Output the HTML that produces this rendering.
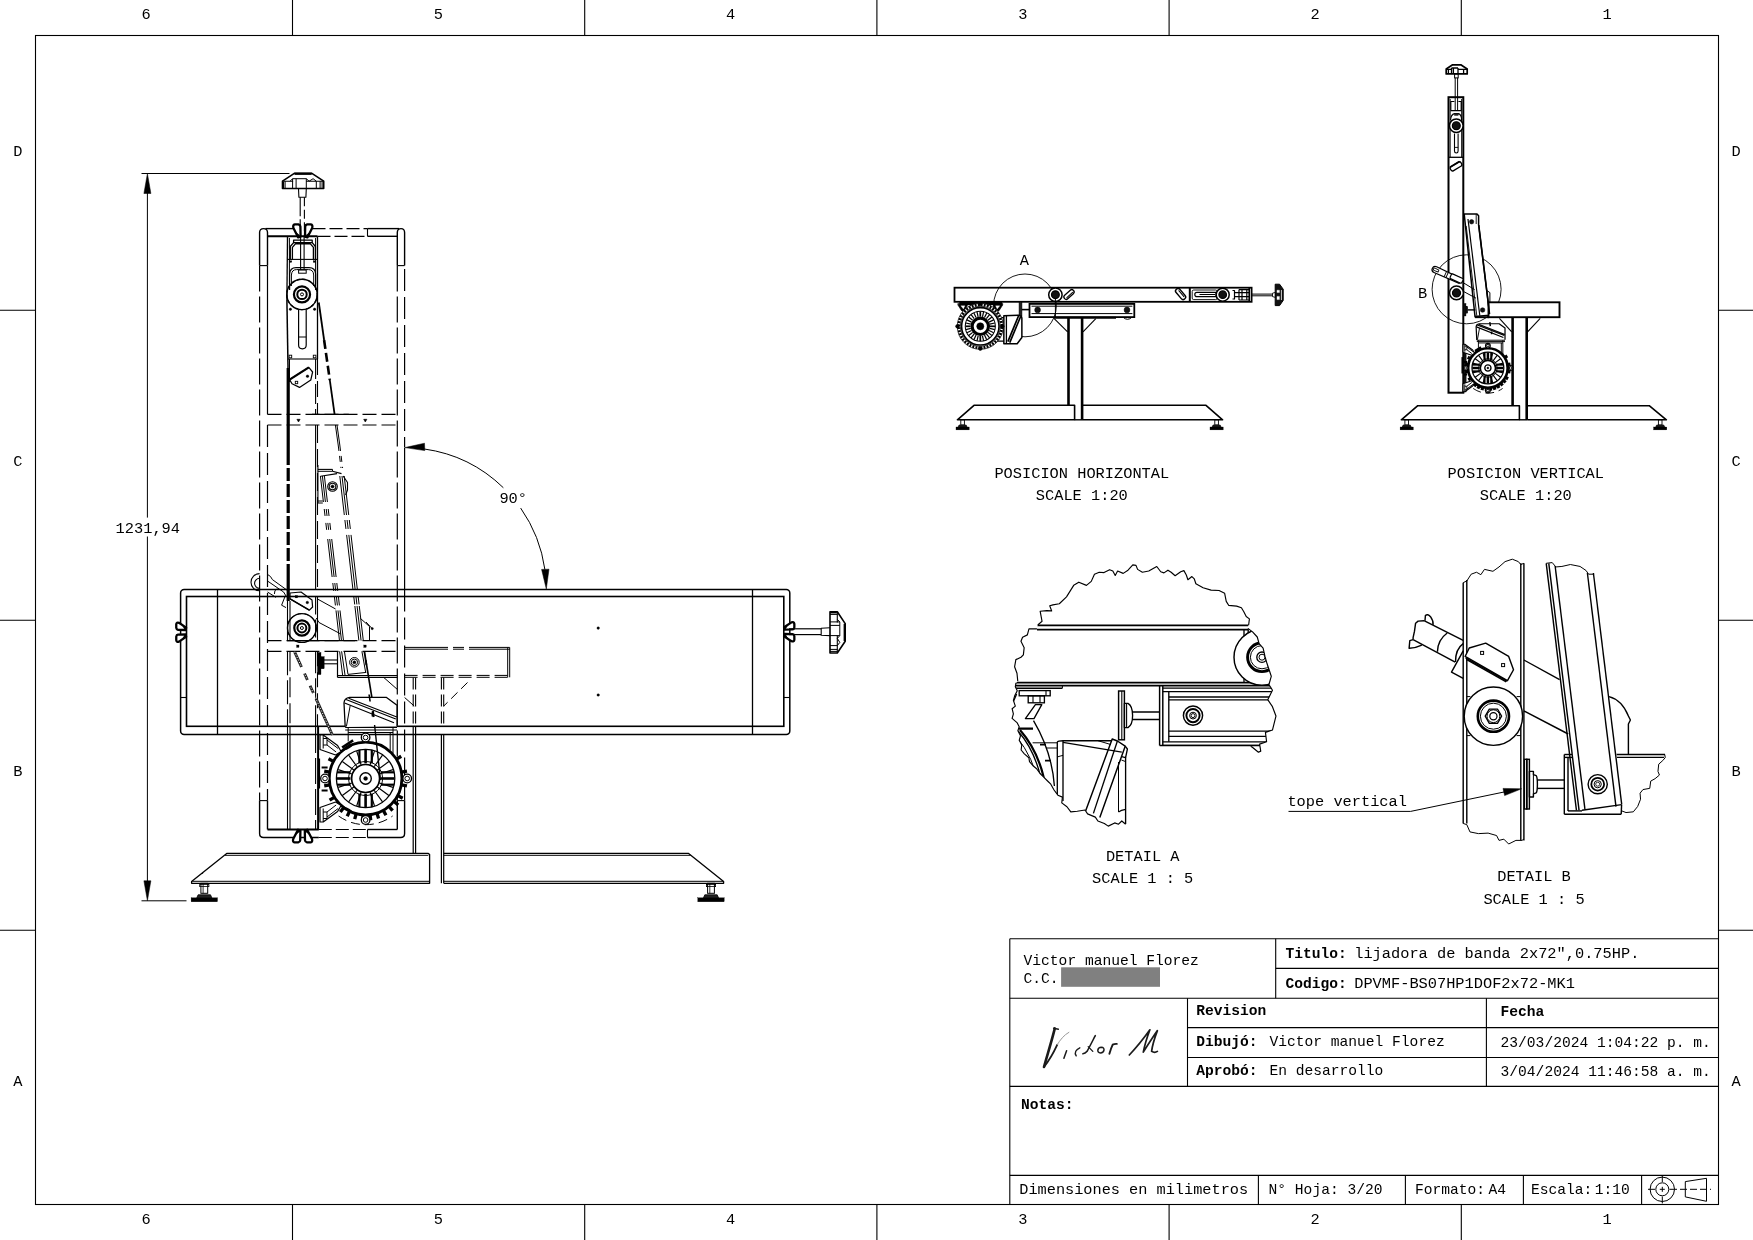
<!DOCTYPE html>
<html><head><meta charset="utf-8"><title>Plano</title>
<style>
html,body{margin:0;padding:0;background:#fff;}
body{width:1753px;height:1240px;overflow:hidden;}
svg{display:block;font-family:"Liberation Mono",monospace;fill:#000;will-change:transform;}
svg text{stroke:none;}
</style></head><body>
<svg width="1753" height="1240" viewBox="0 0 1753 1240">
<rect x="0" y="0" width="1753" height="1240" fill="#fff" stroke="none"/>
<g id="frame">
<rect x="35.50" y="35.50" width="1683.00" height="1169.00" rx="0" fill="none" stroke="#000" stroke-width="1.1"/>
<line x1="292.50" y1="0.00" x2="292.50" y2="35.50" stroke="#000" stroke-width="1.1"/>
<line x1="292.50" y1="1204.50" x2="292.50" y2="1240.00" stroke="#000" stroke-width="1.1"/>
<line x1="584.70" y1="0.00" x2="584.70" y2="35.50" stroke="#000" stroke-width="1.1"/>
<line x1="584.70" y1="1204.50" x2="584.70" y2="1240.00" stroke="#000" stroke-width="1.1"/>
<line x1="876.90" y1="0.00" x2="876.90" y2="35.50" stroke="#000" stroke-width="1.1"/>
<line x1="876.90" y1="1204.50" x2="876.90" y2="1240.00" stroke="#000" stroke-width="1.1"/>
<line x1="1169.10" y1="0.00" x2="1169.10" y2="35.50" stroke="#000" stroke-width="1.1"/>
<line x1="1169.10" y1="1204.50" x2="1169.10" y2="1240.00" stroke="#000" stroke-width="1.1"/>
<line x1="1461.30" y1="0.00" x2="1461.30" y2="35.50" stroke="#000" stroke-width="1.1"/>
<line x1="1461.30" y1="1204.50" x2="1461.30" y2="1240.00" stroke="#000" stroke-width="1.1"/>
<line x1="0.00" y1="310.30" x2="35.50" y2="310.30" stroke="#000" stroke-width="1.1"/>
<line x1="1718.50" y1="310.30" x2="1753.00" y2="310.30" stroke="#000" stroke-width="1.1"/>
<line x1="0.00" y1="620.30" x2="35.50" y2="620.30" stroke="#000" stroke-width="1.1"/>
<line x1="1718.50" y1="620.30" x2="1753.00" y2="620.30" stroke="#000" stroke-width="1.1"/>
<line x1="0.00" y1="930.30" x2="35.50" y2="930.30" stroke="#000" stroke-width="1.1"/>
<line x1="1718.50" y1="930.30" x2="1753.00" y2="930.30" stroke="#000" stroke-width="1.1"/>
<text x="146.20" y="19.00" font-size="15.33" text-anchor="middle" xml:space="preserve">6</text>
<text x="146.20" y="1223.60" font-size="15.33" text-anchor="middle" xml:space="preserve">6</text>
<text x="438.40" y="19.00" font-size="15.33" text-anchor="middle" xml:space="preserve">5</text>
<text x="438.40" y="1223.60" font-size="15.33" text-anchor="middle" xml:space="preserve">5</text>
<text x="730.60" y="19.00" font-size="15.33" text-anchor="middle" xml:space="preserve">4</text>
<text x="730.60" y="1223.60" font-size="15.33" text-anchor="middle" xml:space="preserve">4</text>
<text x="1022.80" y="19.00" font-size="15.33" text-anchor="middle" xml:space="preserve">3</text>
<text x="1022.80" y="1223.60" font-size="15.33" text-anchor="middle" xml:space="preserve">3</text>
<text x="1315.00" y="19.00" font-size="15.33" text-anchor="middle" xml:space="preserve">2</text>
<text x="1315.00" y="1223.60" font-size="15.33" text-anchor="middle" xml:space="preserve">2</text>
<text x="1607.20" y="19.00" font-size="15.33" text-anchor="middle" xml:space="preserve">1</text>
<text x="1607.20" y="1223.60" font-size="15.33" text-anchor="middle" xml:space="preserve">1</text>
<text x="17.80" y="156.40" font-size="15.33" text-anchor="middle" xml:space="preserve">D</text>
<text x="1736.20" y="156.40" font-size="15.33" text-anchor="middle" xml:space="preserve">D</text>
<text x="17.80" y="466.40" font-size="15.33" text-anchor="middle" xml:space="preserve">C</text>
<text x="1736.20" y="466.40" font-size="15.33" text-anchor="middle" xml:space="preserve">C</text>
<text x="17.80" y="776.40" font-size="15.33" text-anchor="middle" xml:space="preserve">B</text>
<text x="1736.20" y="776.40" font-size="15.33" text-anchor="middle" xml:space="preserve">B</text>
<text x="17.80" y="1086.40" font-size="15.33" text-anchor="middle" xml:space="preserve">A</text>
<text x="1736.20" y="1086.40" font-size="15.33" text-anchor="middle" xml:space="preserve">A</text>
</g>
<g id="title">
<line x1="1009.80" y1="938.70" x2="1718.50" y2="938.70" stroke="#000" stroke-width="1.1"/>
<line x1="1009.80" y1="938.70" x2="1009.80" y2="1204.50" stroke="#000" stroke-width="1.1"/>
<line x1="1009.80" y1="998.30" x2="1718.50" y2="998.30" stroke="#000" stroke-width="1.1"/>
<line x1="1009.80" y1="1086.40" x2="1718.50" y2="1086.40" stroke="#000" stroke-width="1.1"/>
<line x1="1009.80" y1="1175.40" x2="1718.50" y2="1175.40" stroke="#000" stroke-width="1.1"/>
<line x1="1275.70" y1="938.70" x2="1275.70" y2="998.30" stroke="#000" stroke-width="1.1"/>
<line x1="1275.70" y1="968.40" x2="1718.50" y2="968.40" stroke="#000" stroke-width="1.1"/>
<line x1="1187.50" y1="998.30" x2="1187.50" y2="1086.40" stroke="#000" stroke-width="1.1"/>
<line x1="1486.40" y1="998.30" x2="1486.40" y2="1086.40" stroke="#000" stroke-width="1.1"/>
<line x1="1187.50" y1="1027.60" x2="1718.50" y2="1027.60" stroke="#000" stroke-width="1.1"/>
<line x1="1187.50" y1="1057.50" x2="1718.50" y2="1057.50" stroke="#000" stroke-width="1.1"/>
<line x1="1258.40" y1="1175.40" x2="1258.40" y2="1204.50" stroke="#000" stroke-width="1.1"/>
<line x1="1405.40" y1="1175.40" x2="1405.40" y2="1204.50" stroke="#000" stroke-width="1.1"/>
<line x1="1523.40" y1="1175.40" x2="1523.40" y2="1204.50" stroke="#000" stroke-width="1.1"/>
<line x1="1641.60" y1="1175.40" x2="1641.60" y2="1204.50" stroke="#000" stroke-width="1.1"/>
<text x="1023.60" y="964.80" font-size="14.6" text-anchor="start" xml:space="preserve">Victor manuel Florez</text>
<text x="1023.60" y="982.80" font-size="14.6" text-anchor="start" xml:space="preserve">C.C.</text>
<rect x="1061.10" y="967.30" width="98.90" height="19.50" rx="0" fill="#808080" stroke="none" stroke-width="0"/>
<text x="1285.50" y="958.20" font-size="14.6" text-anchor="start" font-weight="bold" xml:space="preserve">Titulo:</text>
<text x="1354.20" y="957.80" font-size="15.33" text-anchor="start" xml:space="preserve">lijadora de banda 2x72",0.75HP.</text>
<text x="1285.50" y="988.10" font-size="14.6" text-anchor="start" font-weight="bold" xml:space="preserve">Codigo:</text>
<text x="1354.20" y="987.50" font-size="15.33" text-anchor="start" xml:space="preserve">DPVMF-BS07HP1DOF2x72-MK1</text>
<text x="1196.20" y="1015.00" font-size="14.6" text-anchor="start" font-weight="bold" xml:space="preserve">Revision</text>
<text x="1196.20" y="1045.60" font-size="14.6" text-anchor="start" font-weight="bold" xml:space="preserve">Dibujó:</text>
<text x="1269.50" y="1045.60" font-size="14.6" text-anchor="start" xml:space="preserve">Victor manuel Florez</text>
<text x="1196.20" y="1074.90" font-size="14.6" text-anchor="start" font-weight="bold" xml:space="preserve">Aprobó:</text>
<text x="1269.50" y="1074.90" font-size="14.6" text-anchor="start" xml:space="preserve">En desarrollo</text>
<text x="1500.60" y="1016.30" font-size="14.6" text-anchor="start" font-weight="bold" xml:space="preserve">Fecha</text>
<text x="1500.60" y="1047.00" font-size="14.6" text-anchor="start" xml:space="preserve">23/03/2024 1:04:22 p. m.</text>
<text x="1500.60" y="1075.70" font-size="14.6" text-anchor="start" xml:space="preserve">3/04/2024 11:46:58 a. m.</text>
<text x="1021.00" y="1108.90" font-size="14.6" text-anchor="start" font-weight="bold" xml:space="preserve">Notas:</text>
<text x="1019.30" y="1193.90" font-size="15.25" text-anchor="start" xml:space="preserve">Dimensiones en milimetros</text>
<text x="1268.60" y="1193.90" font-size="14.6" text-anchor="start" xml:space="preserve">N° Hoja: 3/20</text>
<text x="1415.00" y="1193.90" font-size="14.6" text-anchor="start" xml:space="preserve">Formato:</text>
<text x="1488.40" y="1193.90" font-size="14.6" text-anchor="start" xml:space="preserve">A4</text>
<text x="1531.00" y="1193.90" font-size="14.6" text-anchor="start" xml:space="preserve">Escala:</text>
<text x="1594.80" y="1193.90" font-size="14.6" text-anchor="start" xml:space="preserve">1:10</text>
<circle cx="1662.30" cy="1189.30" r="12.20" fill="none" stroke="#000" stroke-width="1.0"/>
<circle cx="1662.30" cy="1189.30" r="6.50" fill="none" stroke="#000" stroke-width="1.0"/>
<line x1="1648.00" y1="1189.30" x2="1655.00" y2="1189.30" stroke="#000" stroke-width="1.0"/>
<line x1="1669.50" y1="1189.30" x2="1677.00" y2="1189.30" stroke="#000" stroke-width="1.0"/>
<line x1="1662.30" y1="1176.00" x2="1662.30" y2="1182.00" stroke="#000" stroke-width="1.0"/>
<line x1="1662.30" y1="1196.50" x2="1662.30" y2="1203.40" stroke="#000" stroke-width="1.0"/>
<line x1="1659.80" y1="1189.30" x2="1664.80" y2="1189.30" stroke="#000" stroke-width="1.0"/>
<line x1="1662.30" y1="1186.80" x2="1662.30" y2="1191.80" stroke="#000" stroke-width="1.0"/>
<polygon points="1685.30,1181.60 1706.50,1178.30 1706.50,1201.30 1685.30,1196.90" fill="none" stroke="#000" stroke-width="1.0" stroke-linejoin="round"/>
<line x1="1680.00" y1="1189.30" x2="1711.00" y2="1189.30" stroke="#000" stroke-width="1.0" stroke-dasharray="7 3"/>
<path d="M1054.8,1028.4 C1052,1040 1047,1056 1044.0,1067" fill="none" stroke="#1a1a1a" stroke-width="2.6" stroke-linejoin="round" stroke-linecap="round"/>
<path d="M1053.6,1028.2 L1058.4,1029.2" fill="none" stroke="#1a1a1a" stroke-width="1.4" stroke-linejoin="round" stroke-linecap="round"/>
<path d="M1044.2,1066.6 C1048,1062 1053,1054 1057.3,1044.7" fill="none" stroke="#1a1a1a" stroke-width="1.8" stroke-linejoin="round" stroke-linecap="round"/>
<path d="M1057.3,1044.7 C1060,1040 1064,1035 1068.9,1032.3" fill="none" stroke="#999" stroke-width="1.0" stroke-linejoin="round" stroke-linecap="round"/>
<path d="M1066.6,1050.8 L1063.9,1058.2" fill="none" stroke="#1a1a1a" stroke-width="1.5" stroke-linejoin="round" stroke-linecap="round"/>
<path d="M1079.8,1047.8 C1076,1049.5 1074,1052.5 1076.2,1055.8" fill="none" stroke="#1a1a1a" stroke-width="1.4" stroke-linejoin="round" stroke-linecap="round"/>
<path d="M1095.3,1035.6 C1092,1042 1089.5,1047 1087.1,1051.3 C1085.6,1053 1084.5,1053.6 1082.9,1053.8" fill="none" stroke="#1a1a1a" stroke-width="1.6" stroke-linejoin="round" stroke-linecap="round"/>
<path d="M1088.2,1046.6 L1092.8,1051.4" fill="none" stroke="#1a1a1a" stroke-width="1.3" stroke-linejoin="round" stroke-linecap="round"/>
<path d="M1101.4,1047.2 C1097,1047.4 1096.6,1052.8 1100.4,1052.9 C1104.6,1052.8 1105.4,1047.4 1101.4,1047.2" fill="none" stroke="#1a1a1a" stroke-width="1.5" stroke-linejoin="round"/>
<path d="M1109.4,1053.8 C1110.5,1050 1111.6,1047 1112.7,1044.7 C1114,1044 1115.5,1043.8 1116.8,1043.9" fill="none" stroke="#1a1a1a" stroke-width="1.9" stroke-linejoin="round" stroke-linecap="round"/>
<path d="M1129.3,1055 C1137,1047 1144,1038 1149.9,1029.8 C1147,1037.5 1144.6,1045.5 1143.3,1052.1 C1147.5,1045.5 1152.6,1037.6 1157.4,1030.6 C1154.8,1037.5 1152.4,1045 1151.6,1051.3 C1153.6,1052.6 1155.6,1052.6 1157.4,1051.4" fill="none" stroke="#1a1a1a" stroke-width="1.7" stroke-linejoin="round" stroke-linecap="round"/>
</g>
<g id="main">
<line x1="141.50" y1="173.50" x2="289.50" y2="173.50" stroke="#000" stroke-width="1.0"/>
<line x1="141.50" y1="900.80" x2="186.50" y2="900.80" stroke="#000" stroke-width="1.0"/>
<line x1="147.40" y1="190.00" x2="147.40" y2="517.60" stroke="#000" stroke-width="1.0"/>
<line x1="147.40" y1="536.50" x2="147.40" y2="884.00" stroke="#000" stroke-width="1.0"/>
<polygon points="147.40,173.50 143.90,193.50 150.90,193.50" fill="#000" stroke="#000" stroke-width="0.5" stroke-linejoin="round"/>
<polygon points="147.40,900.80 143.90,880.80 150.90,880.80" fill="#000" stroke="#000" stroke-width="0.5" stroke-linejoin="round"/>
<text x="147.80" y="532.80" font-size="15.33" text-anchor="middle" xml:space="preserve">1231,94</text>
<path d="M544.92,569.67 A141.8,141.8 0 0 0 520.66,508.07" fill="none" stroke="#000" stroke-width="1.0" stroke-linejoin="round"/>
<path d="M503.36,487.74 A141.8,141.8 0 0 0 424.23,448.98" fill="none" stroke="#000" stroke-width="1.0" stroke-linejoin="round"/>
<polygon points="404.80,447.60 424.50,443.20 424.80,450.60" fill="#000" stroke="#000" stroke-width="0.5" stroke-linejoin="round"/>
<polygon points="546.30,589.00 541.60,569.40 549.00,569.20" fill="#000" stroke="#000" stroke-width="0.5" stroke-linejoin="round"/>
<text x="513.20" y="503.20" font-size="15.33" text-anchor="middle" xml:space="preserve">90°</text>
<g transform="translate(303.1,173.3) rotate(0)">
<path d="M-8.8,0 L8.8,0 L20.6,7.9 L20.6,15.2 L-20.6,15.2 L-20.6,7.9 Z" fill="none" stroke="#000" stroke-width="1.6" stroke-linejoin="round"/>
<path d="M-8.6,0.5 L8.6,0.5" fill="none" stroke="#000" stroke-width="2.2" stroke-linejoin="round"/>
<path d="M-20,8.4 L-20,15" fill="none" stroke="#000" stroke-width="2.0" stroke-linejoin="round"/>
<path d="M-20.6,7.9 L-10,7.9 M3,7.9 L20.6,7.9" fill="none" stroke="#000" stroke-width="1.1" stroke-linejoin="round"/>
<path d="M-10.5,5.4 L3.2,5.4 M-10.5,5.4 L-10.5,15.2 M-7,5.4 L-7,15.2 M3.2,5.4 L3.2,15.2 M-18,7.9 L-18,15.2 M13.2,7.9 L13.2,15.2 M17,7.9 L17,15.2 M19,7.9 L19,15.2 M-10.5,5.4 L-13,7.9 M3.2,5.4 L6,7.9 M10,5.4 L13.2,7.9 M6,7.9 L10,5.4" fill="none" stroke="#000" stroke-width="1.0" stroke-linejoin="round"/>
<path d="M-4.6,15.2 L-4.2,24 L2.8,24 L3.2,15.2" fill="none" stroke="#000" stroke-width="1.1" stroke-linejoin="round"/>
</g>
<line x1="300.20" y1="197.30" x2="300.20" y2="236.00" stroke="#000" stroke-width="1.1" stroke-dasharray="19 3"/>
<line x1="304.40" y1="197.30" x2="304.40" y2="236.00" stroke="#000" stroke-width="1.1" stroke-dasharray="9 3.5"/>
<path d="M259.6,265.6 L259.6,232.6 Q259.6,228.6 263.6,228.6 Q267.5,228.6 267.5,232.6 L267.5,265.6" fill="none" stroke="#000" stroke-width="1.4" stroke-linejoin="round"/>
<line x1="259.60" y1="265.60" x2="267.50" y2="265.60" stroke="#000" stroke-width="1.1"/>
<path d="M397.3,265.6 L397.3,232.6 Q397.3,228.6 401,228.6 Q404.6,228.6 404.6,232.6 L404.6,265.6" fill="none" stroke="#000" stroke-width="1.4" stroke-linejoin="round"/>
<line x1="397.30" y1="265.60" x2="404.60" y2="265.60" stroke="#000" stroke-width="1.1"/>
<line x1="265.50" y1="228.60" x2="293.50" y2="228.60" stroke="#000" stroke-width="1.4"/>
<line x1="312.50" y1="228.60" x2="367.50" y2="228.60" stroke="#000" stroke-width="1.2" stroke-dasharray="13 4"/>
<line x1="367.50" y1="228.60" x2="399.00" y2="228.60" stroke="#000" stroke-width="1.4"/>
<line x1="267.50" y1="236.30" x2="317.50" y2="236.30" stroke="#000" stroke-width="2.0"/>
<line x1="317.50" y1="236.30" x2="367.50" y2="236.30" stroke="#000" stroke-width="1.2" stroke-dasharray="13 4"/>
<line x1="367.50" y1="236.30" x2="397.30" y2="236.30" stroke="#000" stroke-width="1.4"/>
<line x1="367.50" y1="228.60" x2="367.50" y2="236.30" stroke="#000" stroke-width="1.1"/>
<line x1="259.60" y1="265.60" x2="259.60" y2="800.60" stroke="#000" stroke-width="1.2" stroke-dasharray="26 5"/>
<line x1="267.50" y1="265.60" x2="267.50" y2="414.40" stroke="#000" stroke-width="1.2"/>
<line x1="267.50" y1="425.00" x2="267.50" y2="800.60" stroke="#000" stroke-width="1.2" stroke-dasharray="22 6"/>
<line x1="397.30" y1="265.60" x2="397.30" y2="800.60" stroke="#000" stroke-width="1.2" stroke-dasharray="26 5"/>
<line x1="404.60" y1="269.00" x2="404.60" y2="447.00" stroke="#000" stroke-width="1.2" stroke-dasharray="22 6"/>
<line x1="404.60" y1="447.50" x2="404.60" y2="589.40" stroke="#000" stroke-width="1.2"/>
<line x1="404.60" y1="589.40" x2="404.60" y2="800.60" stroke="#000" stroke-width="1.2" stroke-dasharray="22 6"/>
<path d="M259.6,800.6 L259.6,833.5 Q259.6,837.5 263.6,837.5 L318.8,837.5" fill="none" stroke="#000" stroke-width="1.4" stroke-linejoin="round"/>
<line x1="259.60" y1="800.60" x2="267.50" y2="800.60" stroke="#000" stroke-width="1.1"/>
<line x1="267.50" y1="800.60" x2="267.50" y2="829.50" stroke="#000" stroke-width="1.4"/>
<line x1="267.50" y1="829.50" x2="318.80" y2="829.50" stroke="#000" stroke-width="2.0"/>
<line x1="318.80" y1="829.50" x2="367.50" y2="829.50" stroke="#000" stroke-width="1.2" stroke-dasharray="13 4"/>
<line x1="318.80" y1="837.50" x2="367.50" y2="837.50" stroke="#000" stroke-width="1.2" stroke-dasharray="13 4"/>
<line x1="367.50" y1="829.50" x2="397.30" y2="829.50" stroke="#000" stroke-width="1.4"/>
<line x1="367.50" y1="829.50" x2="367.50" y2="837.50" stroke="#000" stroke-width="1.1"/>
<path d="M367.5,837.5 L400.6,837.5 Q404.6,837.5 404.6,833.5 L404.6,800.6" fill="none" stroke="#000" stroke-width="1.4" stroke-linejoin="round"/>
<line x1="397.30" y1="800.60" x2="397.30" y2="829.50" stroke="#000" stroke-width="1.4"/>
<line x1="397.30" y1="800.60" x2="404.60" y2="800.60" stroke="#000" stroke-width="1.1"/>
<line x1="267.50" y1="414.40" x2="397.30" y2="414.40" stroke="#000" stroke-width="1.2" stroke-dasharray="14 5"/>
<line x1="267.50" y1="425.00" x2="397.30" y2="425.00" stroke="#000" stroke-width="1.2" stroke-dasharray="14 5"/>
<line x1="267.50" y1="640.60" x2="397.30" y2="640.60" stroke="#000" stroke-width="1.2" stroke-dasharray="14 5"/>
<line x1="267.50" y1="651.30" x2="397.30" y2="651.30" stroke="#000" stroke-width="1.2" stroke-dasharray="14 5"/>
<line x1="311.90" y1="414.40" x2="348.80" y2="414.40" stroke="#000" stroke-width="1.2"/>
<line x1="287.00" y1="640.60" x2="355.00" y2="640.60" stroke="#000" stroke-width="1.2"/>
<polygon points="296.90,419.30 300.10,419.30 298.50,422.00" fill="#000" stroke="#000" stroke-width="0.6" stroke-linejoin="round"/>
<polygon points="363.70,419.30 366.90,419.30 365.30,422.00" fill="#000" stroke="#000" stroke-width="0.6" stroke-linejoin="round"/>
<rect x="296.60" y="645.00" width="2.40" height="2.40" rx="0" fill="#000" stroke="#000" stroke-width="0.3"/>
<rect x="363.80" y="645.00" width="2.40" height="2.40" rx="0" fill="#000" stroke="#000" stroke-width="0.3"/>
<rect x="180.60" y="589.40" width="609.20" height="145.00" rx="3.5" fill="none" stroke="#000" stroke-width="1.5"/>
<rect x="186.50" y="596.50" width="597.30" height="129.80" rx="0" fill="none" stroke="#000" stroke-width="1.6"/>
<line x1="217.50" y1="589.40" x2="217.50" y2="734.40" stroke="#000" stroke-width="1.3"/>
<line x1="752.50" y1="589.40" x2="752.50" y2="734.40" stroke="#000" stroke-width="1.3"/>
<line x1="180.60" y1="697.50" x2="186.50" y2="697.50" stroke="#000" stroke-width="1.1"/>
<line x1="783.80" y1="697.50" x2="789.80" y2="697.50" stroke="#000" stroke-width="1.1"/>
<g transform="translate(186.3,632.2) rotate(-90)">
<path d="M-8.0,-10.04776119402985 L-4.4,-10.04776119402985 Q-2.5,-9.743283582089553 -2.4,-8.373134328358208 L-2.2,-0.7611940298507462 L-4.6,-0.15223880597014927 L-9.4,-7.307462686567163 Q-10.2,-9.743283582089553 -8.0,-10.04776119402985 Z" fill="#fff" stroke="#000" stroke-width="2.3" stroke-linejoin="round"/>
<path d="M-3.0,-1.5223880597014925 L-4.6,-0.9134328358208954 L-6.2,-3.3492537313432837 Z" fill="#000" stroke="#000" stroke-width="0.8" stroke-linejoin="round"/>
<path d="M8.0,-10.04776119402985 L4.4,-10.04776119402985 Q2.5,-9.743283582089553 2.4,-8.373134328358208 L2.2,-0.7611940298507462 L4.6,-0.15223880597014927 L9.4,-7.307462686567163 Q10.2,-9.743283582089553 8.0,-10.04776119402985 Z" fill="#fff" stroke="#000" stroke-width="2.3" stroke-linejoin="round"/>
<path d="M3.0,-1.5223880597014925 L4.6,-0.9134328358208954 L6.2,-3.3492537313432837 Z" fill="#000" stroke="#000" stroke-width="0.8" stroke-linejoin="round"/>
</g>
<g transform="translate(783.9,631.8) rotate(90)">
<path d="M-8.0,-10.441791044776119 L-4.4,-10.441791044776119 Q-2.5,-10.125373134328358 -2.4,-8.701492537313433 L-2.2,-0.7910447761194029 L-4.6,-0.1582089552238806 L-9.4,-7.594029850746268 Q-10.2,-10.125373134328358 -8.0,-10.441791044776119 Z" fill="#fff" stroke="#000" stroke-width="2.3" stroke-linejoin="round"/>
<path d="M-3.0,-1.5820895522388059 L-4.6,-0.9492537313432835 L-6.2,-3.4805970149253733 Z" fill="#000" stroke="#000" stroke-width="0.8" stroke-linejoin="round"/>
<path d="M8.0,-10.441791044776119 L4.4,-10.441791044776119 Q2.5,-10.125373134328358 2.4,-8.701492537313433 L2.2,-0.7910447761194029 L4.6,-0.1582089552238806 L9.4,-7.594029850746268 Q10.2,-10.125373134328358 8.0,-10.441791044776119 Z" fill="#fff" stroke="#000" stroke-width="2.3" stroke-linejoin="round"/>
<path d="M3.0,-1.5820895522388059 L4.6,-0.9492537313432835 L6.2,-3.4805970149253733 Z" fill="#000" stroke="#000" stroke-width="0.8" stroke-linejoin="round"/>
</g>
<line x1="789.00" y1="628.80" x2="821.00" y2="628.80" stroke="#000" stroke-width="1.2"/>
<line x1="789.00" y1="634.60" x2="821.00" y2="634.60" stroke="#000" stroke-width="1.2"/>
<g transform="translate(845.2,632.4) rotate(90)">
<path d="M-8.8,0 L8.8,0 L20.6,7.9 L20.6,15.2 L-20.6,15.2 L-20.6,7.9 Z" fill="none" stroke="#000" stroke-width="1.6" stroke-linejoin="round"/>
<path d="M-8.6,0.5 L8.6,0.5" fill="none" stroke="#000" stroke-width="2.2" stroke-linejoin="round"/>
<path d="M-20,8.4 L-20,15" fill="none" stroke="#000" stroke-width="2.0" stroke-linejoin="round"/>
<path d="M-20.6,7.9 L-10,7.9 M3,7.9 L20.6,7.9" fill="none" stroke="#000" stroke-width="1.1" stroke-linejoin="round"/>
<path d="M-10.5,5.4 L3.2,5.4 M-10.5,5.4 L-10.5,15.2 M-7,5.4 L-7,15.2 M3.2,5.4 L3.2,15.2 M-18,7.9 L-18,15.2 M13.2,7.9 L13.2,15.2 M17,7.9 L17,15.2 M19,7.9 L19,15.2 M-10.5,5.4 L-13,7.9 M3.2,5.4 L6,7.9 M10,5.4 L13.2,7.9 M6,7.9 L10,5.4" fill="none" stroke="#000" stroke-width="1.0" stroke-linejoin="round"/>
<path d="M-4.6,15.2 L-4.2,24 L2.8,24 L3.2,15.2" fill="none" stroke="#000" stroke-width="1.1" stroke-linejoin="round"/>
</g>
<line x1="287.50" y1="236.30" x2="286.90" y2="300.00" stroke="#000" stroke-width="1.3"/>
<line x1="289.40" y1="238.00" x2="289.40" y2="284.00" stroke="#000" stroke-width="1.0"/>
<line x1="317.50" y1="236.30" x2="317.50" y2="359.00" stroke="#000" stroke-width="1.3"/>
<line x1="315.60" y1="238.00" x2="315.60" y2="284.00" stroke="#000" stroke-width="1.0"/>
<path d="M290.3,259.4 L290.3,246.5 L293.6,242.6 L293.6,240.2 L312.2,240.2 L312.2,242.6 L315.4,246.5 L315.4,259.4" fill="none" stroke="#000" stroke-width="1.3" stroke-linejoin="round"/>
<path d="M292.4,259.4 L292.4,247.4 L295.4,243.8 L310.4,243.8 L313.4,247.4 L313.4,259.4 M293.6,242.6 L312.2,242.6" fill="none" stroke="#000" stroke-width="1.3" stroke-linejoin="round"/>
<line x1="287.50" y1="259.40" x2="317.50" y2="259.40" stroke="#000" stroke-width="1.1"/>
<rect x="289.20" y="260.80" width="2.60" height="1.60" rx="0" fill="#000" stroke="#000" stroke-width="0.3"/>
<rect x="313.20" y="260.80" width="2.60" height="1.60" rx="0" fill="#000" stroke="#000" stroke-width="0.3"/>
<line x1="300.60" y1="236.30" x2="300.60" y2="270.00" stroke="#000" stroke-width="1.1"/>
<line x1="304.10" y1="236.30" x2="304.10" y2="270.00" stroke="#000" stroke-width="1.1"/>
<path d="M289.6,290 L289.6,274 Q290,267.6 296,267.6 L309,267.6 Q315.4,267.6 315.6,274 L315.6,290" fill="none" stroke="#000" stroke-width="1.2" stroke-linejoin="round"/>
<path d="M291.4,286 L291.4,275 Q291.8,269.6 296.5,269.6 L308.6,269.6 Q313.4,269.6 313.7,275 L313.7,286" fill="none" stroke="#000" stroke-width="1.0" stroke-linejoin="round"/>
<rect x="298.60" y="270.00" width="7.60" height="3.20" rx="0" fill="none" stroke="#000" stroke-width="1.0"/>
<circle cx="302.00" cy="294.40" r="15.20" fill="none" stroke="#000" stroke-width="1.4"/>
<circle cx="302.00" cy="294.40" r="8.06" fill="none" stroke="#000" stroke-width="2.2"/>
<circle cx="302.00" cy="294.40" r="4.71" fill="none" stroke="#000" stroke-width="2.0"/>
<circle cx="302.00" cy="294.40" r="1.50" fill="none" stroke="#000" stroke-width="1.0"/>
<circle cx="302.00" cy="294.40" r="15.20" fill="none" stroke="#000" stroke-width="1.2" stroke-dasharray="3 2.5"/>
<path d="M298.6,309.4 L298.6,345 Q298.6,348.8 302.4,348.8 Q306.2,348.8 306.2,345 L306.2,309.4" fill="none" stroke="#000" stroke-width="1.2" stroke-linejoin="round"/>
<line x1="298.60" y1="337.00" x2="306.20" y2="337.00" stroke="#000" stroke-width="1.0"/>
<circle cx="290.40" cy="309.20" r="1.20" fill="#000" stroke="#000" stroke-width="0.4"/>
<rect x="289.10" y="355.20" width="2.60" height="2.60" rx="0" fill="none" stroke="#000" stroke-width="0.9"/>
<circle cx="314.60" cy="309.20" r="1.20" fill="#000" stroke="#000" stroke-width="0.4"/>
<rect x="313.30" y="355.20" width="2.60" height="2.60" rx="0" fill="none" stroke="#000" stroke-width="0.9"/>
<line x1="287.80" y1="359.00" x2="317.50" y2="359.00" stroke="#000" stroke-width="1.1"/>
<line x1="289.50" y1="359.00" x2="289.50" y2="382.00" stroke="#000" stroke-width="1.0"/>
<polygon points="289.60,379.60 308.80,367.40 312.60,372.00 310.80,380.00 299.50,387.40 292.00,383.80" fill="none" stroke="#000" stroke-width="1.2" stroke-linejoin="round"/>
<line x1="289.60" y1="379.60" x2="308.80" y2="367.40" stroke="#000" stroke-width="2.2"/>
<rect x="295.30" y="381.30" width="2.40" height="2.40" rx="0" fill="none" stroke="#000" stroke-width="0.9"/>
<circle cx="307.50" cy="376.20" r="1.30" fill="#000" stroke="#000" stroke-width="0.4"/>
<line x1="286.90" y1="300.00" x2="288.10" y2="372.00" stroke="#000" stroke-width="1.5"/>
<line x1="288.20" y1="368.00" x2="288.20" y2="452.00" stroke="#000" stroke-width="3.2"/>
<line x1="288.20" y1="452.00" x2="288.20" y2="566.00" stroke="#000" stroke-width="3.2" stroke-dasharray="13 3"/>
<line x1="288.20" y1="566.00" x2="288.20" y2="601.00" stroke="#000" stroke-width="3.2"/>
<line x1="287.50" y1="601.00" x2="287.50" y2="640.00" stroke="#000" stroke-width="1.1"/>
<line x1="290.00" y1="601.00" x2="290.00" y2="640.00" stroke="#000" stroke-width="1.1"/>
<line x1="287.50" y1="651.30" x2="287.50" y2="726.00" stroke="#000" stroke-width="1.1" stroke-dasharray="24 5"/>
<line x1="290.00" y1="651.30" x2="290.00" y2="726.00" stroke="#000" stroke-width="1.1" stroke-dasharray="20 6"/>
<line x1="287.50" y1="726.00" x2="287.50" y2="829.50" stroke="#000" stroke-width="1.1"/>
<line x1="290.00" y1="726.00" x2="290.00" y2="829.50" stroke="#000" stroke-width="1.1"/>
<line x1="315.60" y1="359.00" x2="315.60" y2="414.40" stroke="#000" stroke-width="1.1" stroke-dasharray="20 5"/>
<line x1="317.50" y1="359.00" x2="317.50" y2="414.40" stroke="#000" stroke-width="1.1" stroke-dasharray="16 6"/>
<line x1="315.60" y1="425.00" x2="315.60" y2="589.40" stroke="#000" stroke-width="1.1"/>
<line x1="317.50" y1="425.00" x2="317.50" y2="589.40" stroke="#000" stroke-width="1.1" stroke-dasharray="18 6"/>
<line x1="315.60" y1="596.50" x2="315.60" y2="640.60" stroke="#000" stroke-width="1.1" stroke-dasharray="18 5"/>
<line x1="317.50" y1="596.50" x2="317.50" y2="640.60" stroke="#000" stroke-width="1.1"/>
<line x1="315.60" y1="651.30" x2="315.60" y2="727.00" stroke="#000" stroke-width="1.1" stroke-dasharray="22 5"/>
<line x1="317.50" y1="651.30" x2="317.50" y2="727.00" stroke="#000" stroke-width="1.1" stroke-dasharray="15 6"/>
<line x1="315.60" y1="727.00" x2="315.60" y2="829.50" stroke="#000" stroke-width="1.1" stroke-dasharray="26 5"/>
<line x1="318.10" y1="727.00" x2="318.10" y2="829.50" stroke="#000" stroke-width="2.0"/>
<line x1="318.80" y1="302.50" x2="324.10" y2="340.00" stroke="#000" stroke-width="1.8"/>
<line x1="324.10" y1="340.00" x2="329.80" y2="380.00" stroke="#000" stroke-width="2.6" stroke-dasharray="9 4"/>
<line x1="329.80" y1="380.00" x2="334.60" y2="414.40" stroke="#000" stroke-width="1.8"/>
<line x1="335.40" y1="425.00" x2="338.20" y2="445.00" stroke="#000" stroke-width="1.0"/>
<line x1="337.00" y1="425.00" x2="339.80" y2="445.00" stroke="#000" stroke-width="1.0"/>
<line x1="338.20" y1="445.00" x2="341.00" y2="468.00" stroke="#000" stroke-width="1.0" stroke-dasharray="6 5"/>
<line x1="339.80" y1="445.00" x2="342.60" y2="468.00" stroke="#000" stroke-width="1.0" stroke-dasharray="6 5"/>
<line x1="320.40" y1="476.00" x2="323.42" y2="502.00" stroke="#000" stroke-width="1.0"/>
<line x1="322.40" y1="476.00" x2="325.42" y2="502.00" stroke="#000" stroke-width="1.0"/>
<line x1="324.40" y1="476.00" x2="327.42" y2="502.00" stroke="#000" stroke-width="1.0"/>
<line x1="324.23" y1="509.00" x2="327.01" y2="533.00" stroke="#000" stroke-width="1.0" stroke-dasharray="7 7"/>
<line x1="326.23" y1="509.00" x2="329.01" y2="533.00" stroke="#000" stroke-width="1.0" stroke-dasharray="7 7"/>
<line x1="328.23" y1="509.00" x2="331.01" y2="533.00" stroke="#000" stroke-width="1.0" stroke-dasharray="7 7"/>
<line x1="327.71" y1="539.00" x2="332.12" y2="577.00" stroke="#000" stroke-width="1.0"/>
<line x1="329.71" y1="539.00" x2="334.12" y2="577.00" stroke="#000" stroke-width="1.0"/>
<line x1="331.71" y1="539.00" x2="336.12" y2="577.00" stroke="#000" stroke-width="1.0"/>
<line x1="332.81" y1="583.00" x2="333.74" y2="591.00" stroke="#000" stroke-width="1.0" stroke-dasharray="8 5"/>
<line x1="334.81" y1="583.00" x2="335.74" y2="591.00" stroke="#000" stroke-width="1.0" stroke-dasharray="8 5"/>
<line x1="336.81" y1="583.00" x2="337.74" y2="591.00" stroke="#000" stroke-width="1.0" stroke-dasharray="8 5"/>
<line x1="334.38" y1="596.50" x2="336.18" y2="612.00" stroke="#000" stroke-width="1.0" stroke-dasharray="9 5"/>
<line x1="336.38" y1="596.50" x2="338.18" y2="612.00" stroke="#000" stroke-width="1.0" stroke-dasharray="9 5"/>
<line x1="338.38" y1="596.50" x2="340.18" y2="612.00" stroke="#000" stroke-width="1.0" stroke-dasharray="9 5"/>
<line x1="336.18" y1="612.00" x2="339.49" y2="640.60" stroke="#000" stroke-width="1.0"/>
<line x1="338.18" y1="612.00" x2="341.49" y2="640.60" stroke="#000" stroke-width="1.0"/>
<line x1="340.18" y1="612.00" x2="343.49" y2="640.60" stroke="#000" stroke-width="1.0"/>
<line x1="339.80" y1="476.00" x2="344.32" y2="515.00" stroke="#000" stroke-width="1.0"/>
<line x1="342.00" y1="476.00" x2="346.52" y2="515.00" stroke="#000" stroke-width="1.0"/>
<line x1="344.20" y1="476.00" x2="348.72" y2="515.00" stroke="#000" stroke-width="1.0"/>
<line x1="344.90" y1="520.00" x2="347.57" y2="543.00" stroke="#000" stroke-width="1.0" stroke-dasharray="9 6"/>
<line x1="347.10" y1="520.00" x2="349.77" y2="543.00" stroke="#000" stroke-width="1.0" stroke-dasharray="9 6"/>
<line x1="349.30" y1="520.00" x2="351.97" y2="543.00" stroke="#000" stroke-width="1.0" stroke-dasharray="9 6"/>
<line x1="347.57" y1="543.00" x2="352.95" y2="589.40" stroke="#000" stroke-width="1.0"/>
<line x1="349.77" y1="543.00" x2="355.15" y2="589.40" stroke="#000" stroke-width="1.0"/>
<line x1="351.97" y1="543.00" x2="357.35" y2="589.40" stroke="#000" stroke-width="1.0"/>
<line x1="353.78" y1="596.50" x2="354.88" y2="606.00" stroke="#000" stroke-width="1.0" stroke-dasharray="8 5"/>
<line x1="355.98" y1="596.50" x2="357.08" y2="606.00" stroke="#000" stroke-width="1.0" stroke-dasharray="8 5"/>
<line x1="358.18" y1="596.50" x2="359.28" y2="606.00" stroke="#000" stroke-width="1.0" stroke-dasharray="8 5"/>
<line x1="354.88" y1="606.00" x2="358.89" y2="640.60" stroke="#000" stroke-width="1.0"/>
<line x1="357.08" y1="606.00" x2="361.09" y2="640.60" stroke="#000" stroke-width="1.0"/>
<line x1="359.28" y1="606.00" x2="363.29" y2="640.60" stroke="#000" stroke-width="1.0"/>
<line x1="317.90" y1="465.00" x2="317.90" y2="503.00" stroke="#000" stroke-width="1.1"/>
<line x1="317.90" y1="469.40" x2="332.50" y2="469.40" stroke="#000" stroke-width="1.1"/>
<line x1="317.90" y1="471.30" x2="332.50" y2="471.30" stroke="#000" stroke-width="1.0"/>
<line x1="332.50" y1="469.40" x2="332.50" y2="471.30" stroke="#000" stroke-width="1.0"/>
<line x1="320.50" y1="476.20" x2="337.00" y2="473.60" stroke="#000" stroke-width="1.1"/>
<line x1="332.50" y1="471.30" x2="341.50" y2="473.60" stroke="#000" stroke-width="1.1"/>
<line x1="317.90" y1="501.00" x2="322.80" y2="501.00" stroke="#000" stroke-width="1.0"/>
<line x1="317.90" y1="503.00" x2="322.80" y2="503.00" stroke="#000" stroke-width="1.0"/>
<path d="M343.2,476 L347.5,482.5 L347.5,490 L345.6,495" fill="none" stroke="#000" stroke-width="1.1" stroke-linejoin="round"/>
<circle cx="332.50" cy="486.50" r="4.80" fill="none" stroke="#000" stroke-width="1.1"/>
<circle cx="332.50" cy="486.50" r="3.30" fill="none" stroke="#000" stroke-width="1.1"/>
<circle cx="332.50" cy="486.50" r="1.60" fill="#000" stroke="#000" stroke-width="0.5"/>
<line x1="337.50" y1="651.30" x2="337.50" y2="677.40" stroke="#000" stroke-width="1.2"/>
<line x1="339.60" y1="651.30" x2="342.60" y2="675.00" stroke="#000" stroke-width="1.0"/>
<line x1="341.60" y1="651.30" x2="345.00" y2="675.00" stroke="#000" stroke-width="1.0"/>
<line x1="344.40" y1="651.30" x2="348.00" y2="674.40" stroke="#000" stroke-width="1.0"/>
<line x1="361.90" y1="651.30" x2="365.60" y2="672.00" stroke="#000" stroke-width="1.0"/>
<line x1="364.40" y1="651.30" x2="366.40" y2="665.00" stroke="#000" stroke-width="1.8"/>
<line x1="348.00" y1="674.40" x2="366.30" y2="672.40" stroke="#000" stroke-width="1.0"/>
<circle cx="354.40" cy="662.30" r="4.80" fill="none" stroke="#000" stroke-width="1.0"/>
<circle cx="354.40" cy="662.30" r="3.20" fill="none" stroke="#000" stroke-width="1.0"/>
<circle cx="354.40" cy="662.30" r="1.50" fill="#000" stroke="#000" stroke-width="0.5"/>
<line x1="365.80" y1="660.00" x2="372.60" y2="702.00" stroke="#000" stroke-width="1.6"/>
<line x1="294.60" y1="651.80" x2="301.50" y2="667.00" stroke="#222" stroke-width="2.8"/>
<line x1="304.50" y1="673.50" x2="307.40" y2="680.00" stroke="#222" stroke-width="2.8"/>
<line x1="310.00" y1="685.60" x2="313.40" y2="693.00" stroke="#222" stroke-width="2.8"/>
<line x1="316.00" y1="698.60" x2="332.40" y2="735.00" stroke="#222" stroke-width="2.8"/>
<line x1="294.60" y1="651.80" x2="332.40" y2="735.00" stroke="#fff" stroke-width="0.9" stroke-dasharray="1.2 1.6"/>
<rect x="317.40" y="652.40" width="3.60" height="22.20" rx="0" fill="#000" stroke="#000" stroke-width="0.3"/>
<rect x="321.00" y="656.60" width="3.20" height="12.20" rx="0" fill="#000" stroke="#000" stroke-width="0.3"/>
<line x1="324.00" y1="660.00" x2="337.50" y2="660.00" stroke="#000" stroke-width="1.1"/>
<line x1="324.00" y1="663.80" x2="337.50" y2="663.80" stroke="#000" stroke-width="1.1"/>
<line x1="337.50" y1="675.60" x2="397.30" y2="675.60" stroke="#000" stroke-width="1.1"/>
<line x1="337.50" y1="677.50" x2="397.30" y2="677.50" stroke="#000" stroke-width="1.1"/>
<line x1="404.60" y1="647.40" x2="437.00" y2="647.40" stroke="#000" stroke-width="1.0"/>
<line x1="404.60" y1="649.20" x2="437.00" y2="649.20" stroke="#000" stroke-width="1.0"/>
<line x1="437.00" y1="647.40" x2="480.00" y2="647.40" stroke="#000" stroke-width="1.0" stroke-dasharray="11 5"/>
<line x1="437.00" y1="649.20" x2="480.00" y2="649.20" stroke="#000" stroke-width="1.0" stroke-dasharray="11 5"/>
<line x1="480.00" y1="647.40" x2="509.70" y2="647.40" stroke="#000" stroke-width="1.0"/>
<line x1="480.00" y1="649.20" x2="509.70" y2="649.20" stroke="#000" stroke-width="1.0"/>
<line x1="404.60" y1="675.40" x2="509.70" y2="675.40" stroke="#000" stroke-width="1.0" stroke-dasharray="13 5"/>
<line x1="404.60" y1="677.30" x2="509.70" y2="677.30" stroke="#000" stroke-width="1.0" stroke-dasharray="13 5"/>
<line x1="507.70" y1="647.40" x2="507.70" y2="677.30" stroke="#000" stroke-width="1.0"/>
<line x1="509.70" y1="647.40" x2="509.70" y2="677.30" stroke="#000" stroke-width="1.0"/>
<line x1="383.80" y1="677.50" x2="397.30" y2="689.40" stroke="#000" stroke-width="1.0"/>
<line x1="404.60" y1="697.50" x2="414.20" y2="706.00" stroke="#000" stroke-width="1.0"/>
<line x1="467.50" y1="682.50" x2="443.80" y2="706.00" stroke="#000" stroke-width="1.0" stroke-dasharray="9 5"/>
<line x1="413.20" y1="677.50" x2="413.20" y2="726.00" stroke="#000" stroke-width="1.1" stroke-dasharray="12 5"/>
<line x1="415.60" y1="677.50" x2="415.60" y2="726.00" stroke="#000" stroke-width="1.1" stroke-dasharray="12 5"/>
<line x1="413.20" y1="726.00" x2="413.20" y2="853.40" stroke="#000" stroke-width="1.2"/>
<line x1="415.60" y1="726.00" x2="415.60" y2="853.40" stroke="#000" stroke-width="1.2"/>
<line x1="441.40" y1="677.50" x2="441.40" y2="726.00" stroke="#000" stroke-width="1.1" stroke-dasharray="12 5"/>
<line x1="443.70" y1="677.50" x2="443.70" y2="726.00" stroke="#000" stroke-width="1.1" stroke-dasharray="12 5"/>
<line x1="441.40" y1="734.40" x2="441.40" y2="883.30" stroke="#000" stroke-width="1.2"/>
<line x1="443.70" y1="734.40" x2="443.70" y2="883.30" stroke="#000" stroke-width="1.2"/>
<circle cx="598.20" cy="628.10" r="1.30" fill="#000" stroke="#000" stroke-width="0.3"/>
<circle cx="598.20" cy="695.00" r="1.30" fill="#000" stroke="#000" stroke-width="0.3"/>
<circle cx="301.90" cy="628.00" r="14.40" fill="none" stroke="#000" stroke-width="1.4"/>
<circle cx="301.90" cy="628.00" r="7.63" fill="none" stroke="#000" stroke-width="2.2"/>
<circle cx="301.90" cy="628.00" r="4.46" fill="none" stroke="#000" stroke-width="2.0"/>
<circle cx="301.90" cy="628.00" r="1.50" fill="none" stroke="#000" stroke-width="1.0"/>
<circle cx="301.90" cy="628.00" r="14.40" fill="none" stroke="#000" stroke-width="1.0" stroke-dasharray="4 3"/>
<polygon points="290.00,593.00 301.00,592.00 312.00,600.00 312.60,607.00 309.40,610.20 290.00,598.80" fill="none" stroke="#000" stroke-width="1.2" stroke-linejoin="round"/>
<rect x="295.20" y="595.50" width="2.40" height="2.40" rx="0" fill="#000" stroke="#000" stroke-width="0.3"/>
<circle cx="307.30" cy="602.50" r="1.30" fill="#000" stroke="#000" stroke-width="0.4"/>
<polyline points="284.80,597.00 281.60,605.20 286.00,607.60" fill="none" stroke="#000" stroke-width="1.0" stroke-linejoin="round"/>
<line x1="290.00" y1="598.80" x2="309.40" y2="610.20" stroke="#000" stroke-width="1.4"/>
<path d="M259.6,573.6 A8.6,8.6 0 1 0 259.6,590.8" fill="none" stroke="#000" stroke-width="1.1" stroke-linejoin="round"/>
<path d="M259.6,578.3 A5,5 0 0 0 259.6,588.4" fill="none" stroke="#000" stroke-width="1.1" stroke-linejoin="round"/>
<path d="M267.5,574.4 Q271,576 272.4,579.6 L287.4,590.4" fill="none" stroke="#000" stroke-width="1.0" stroke-linejoin="round"/>
<path d="M267.5,581 L283.6,592 L286,596" fill="none" stroke="#000" stroke-width="1.0" stroke-linejoin="round"/>
<path d="M267.5,592 L276,597.4" fill="none" stroke="#000" stroke-width="1.0" stroke-linejoin="round"/>
<path d="M277.4,588.6 Q274,590 274.4,594" fill="none" stroke="#000" stroke-width="1.0" stroke-linejoin="round"/>
<line x1="317.50" y1="599.00" x2="335.60" y2="609.00" stroke="#000" stroke-width="1.0"/>
<line x1="316.30" y1="618.00" x2="319.00" y2="622.50" stroke="#000" stroke-width="1.0"/>
<line x1="319.00" y1="622.50" x2="340.80" y2="634.00" stroke="#000" stroke-width="1.0"/>
<path d="M360.5,618.5 L369.5,626.5 L369.5,640.6" fill="none" stroke="#000" stroke-width="1.0" stroke-linejoin="round"/>
<circle cx="372.20" cy="628.60" r="1.20" fill="#000" stroke="#000" stroke-width="0.3"/>
<line x1="366.00" y1="622.00" x2="371.60" y2="628.00" stroke="#000" stroke-width="1.0"/>
<g transform="translate(365.60,778.50) rotate(0) scale(1.0)">
<line x1="32.23" y1="17.14" x2="37.08" y2="19.72" stroke="#000" stroke-width="3.3"/>
<line x1="28.37" y1="22.97" x2="32.64" y2="26.43" stroke="#000" stroke-width="3.3"/>
<line x1="23.46" y1="27.96" x2="27.00" y2="32.17" stroke="#000" stroke-width="3.3"/>
<line x1="17.70" y1="31.92" x2="20.36" y2="36.73" stroke="#000" stroke-width="3.3"/>
<line x1="11.28" y1="34.71" x2="12.98" y2="39.94" stroke="#000" stroke-width="3.3"/>
<line x1="4.45" y1="36.23" x2="5.12" y2="41.69" stroke="#000" stroke-width="3.3"/>
<line x1="-2.55" y1="36.41" x2="-2.93" y2="41.90" stroke="#000" stroke-width="3.3"/>
<line x1="-9.45" y1="35.26" x2="-10.87" y2="40.57" stroke="#000" stroke-width="3.3"/>
<line x1="-16.00" y1="32.81" x2="-18.41" y2="37.75" stroke="#000" stroke-width="3.3"/>
<line x1="-21.97" y1="29.15" x2="-25.28" y2="33.54" stroke="#000" stroke-width="3.3"/>
<line x1="-27.12" y1="24.42" x2="-31.21" y2="28.10" stroke="#000" stroke-width="3.3"/>
<line x1="-31.29" y1="18.80" x2="-36.00" y2="21.63" stroke="#000" stroke-width="3.3"/>
<line x1="35.95" y1="-6.34" x2="41.36" y2="-7.29" stroke="#000" stroke-width="3.3"/>
<line x1="30.95" y1="-19.34" x2="35.62" y2="-22.26" stroke="#000" stroke-width="3.3"/>
<line x1="-35.95" y1="-6.34" x2="-41.36" y2="-7.29" stroke="#000" stroke-width="3.3"/>
<line x1="-32.23" y1="-17.14" x2="-37.08" y2="-19.72" stroke="#000" stroke-width="3.3"/>
<line x1="35.95" y1="6.34" x2="41.36" y2="7.29" stroke="#000" stroke-width="3.3"/>
<line x1="-35.95" y1="6.34" x2="-41.36" y2="7.29" stroke="#000" stroke-width="3.3"/>
<path d="M-27,37.5 A46.2,46.2 0 0 0 27,37.5" fill="none" stroke="#000" stroke-width="1.0" stroke-linejoin="round" stroke-dasharray="9.0 5.0"/>
<circle cx="0.00" cy="0.00" r="36.30" fill="#fff" stroke="#000" stroke-width="2.8"/>
<circle cx="0.00" cy="0.00" r="29.20" fill="none" stroke="#000" stroke-width="1.3"/>
<circle cx="0.00" cy="0.00" r="17.00" fill="none" stroke="#000" stroke-width="1.0"/>
<circle cx="0.00" cy="0.00" r="14.00" fill="none" stroke="#000" stroke-width="1.7"/>
<circle cx="0.00" cy="0.00" r="5.70" fill="none" stroke="#000" stroke-width="1.4"/>
<circle cx="0.00" cy="0.00" r="2.00" fill="#000" stroke="#000" stroke-width="0.3"/>
<line x1="15.20" y1="0.00" x2="28.60" y2="0.00" stroke="#000" stroke-width="2.6"/>
<line x1="15.20" y1="6.20" x2="28.60" y2="6.20" stroke="#000" stroke-width="2.2"/>
<line x1="15.20" y1="-6.20" x2="28.60" y2="-6.20" stroke="#000" stroke-width="2.2"/>
<line x1="13.79" y1="4.48" x2="27.39" y2="8.90" stroke="#000" stroke-width="1.2"/>
<line x1="11.73" y1="8.52" x2="23.30" y2="16.93" stroke="#000" stroke-width="1.2"/>
<line x1="8.52" y1="11.73" x2="16.93" y2="23.30" stroke="#000" stroke-width="1.2"/>
<line x1="4.48" y1="13.79" x2="8.90" y2="27.39" stroke="#000" stroke-width="1.2"/>
<line x1="0.00" y1="15.20" x2="0.00" y2="28.60" stroke="#000" stroke-width="2.6"/>
<line x1="-6.20" y1="15.20" x2="-6.20" y2="28.60" stroke="#000" stroke-width="2.2"/>
<line x1="6.20" y1="15.20" x2="6.20" y2="28.60" stroke="#000" stroke-width="2.2"/>
<line x1="-4.48" y1="13.79" x2="-8.90" y2="27.39" stroke="#000" stroke-width="1.2"/>
<line x1="-8.52" y1="11.73" x2="-16.93" y2="23.30" stroke="#000" stroke-width="1.2"/>
<line x1="-11.73" y1="8.52" x2="-23.30" y2="16.93" stroke="#000" stroke-width="1.2"/>
<line x1="-13.79" y1="4.48" x2="-27.39" y2="8.90" stroke="#000" stroke-width="1.2"/>
<line x1="-15.20" y1="0.00" x2="-28.60" y2="0.00" stroke="#000" stroke-width="2.6"/>
<line x1="-15.20" y1="-6.20" x2="-28.60" y2="-6.20" stroke="#000" stroke-width="2.2"/>
<line x1="-15.20" y1="6.20" x2="-28.60" y2="6.20" stroke="#000" stroke-width="2.2"/>
<line x1="-13.79" y1="-4.48" x2="-27.39" y2="-8.90" stroke="#000" stroke-width="1.2"/>
<line x1="-11.73" y1="-8.52" x2="-23.30" y2="-16.93" stroke="#000" stroke-width="1.2"/>
<line x1="-8.52" y1="-11.73" x2="-16.93" y2="-23.30" stroke="#000" stroke-width="1.2"/>
<line x1="-4.48" y1="-13.79" x2="-8.90" y2="-27.39" stroke="#000" stroke-width="1.2"/>
<line x1="-0.00" y1="-15.20" x2="-0.00" y2="-28.60" stroke="#000" stroke-width="2.6"/>
<line x1="6.20" y1="-15.20" x2="6.20" y2="-28.60" stroke="#000" stroke-width="2.2"/>
<line x1="-6.20" y1="-15.20" x2="-6.20" y2="-28.60" stroke="#000" stroke-width="2.2"/>
<line x1="4.48" y1="-13.79" x2="8.90" y2="-27.39" stroke="#000" stroke-width="1.2"/>
<line x1="8.52" y1="-11.73" x2="16.93" y2="-23.30" stroke="#000" stroke-width="1.2"/>
<line x1="11.73" y1="-8.52" x2="23.30" y2="-16.93" stroke="#000" stroke-width="1.2"/>
<line x1="13.79" y1="-4.48" x2="27.39" y2="-8.90" stroke="#000" stroke-width="1.2"/>
<circle cx="0.00" cy="-41.00" r="4.30" fill="#fff" stroke="#000" stroke-width="1.3"/>
<circle cx="0.00" cy="-41.00" r="2.30" fill="none" stroke="#000" stroke-width="1.0"/>
<circle cx="0.00" cy="41.50" r="4.30" fill="#fff" stroke="#000" stroke-width="1.3"/>
<circle cx="0.00" cy="41.50" r="2.30" fill="none" stroke="#000" stroke-width="1.0"/>
<circle cx="-40.60" cy="0.00" r="4.30" fill="#fff" stroke="#000" stroke-width="1.3"/>
<circle cx="-40.60" cy="0.00" r="2.30" fill="none" stroke="#000" stroke-width="1.0"/>
<circle cx="41.60" cy="0.00" r="4.30" fill="#fff" stroke="#000" stroke-width="1.3"/>
<circle cx="41.60" cy="0.00" r="2.30" fill="none" stroke="#000" stroke-width="1.0"/>
<path d="M-45.6,-43.5 L-42.4,-43.5 L-28,-33 L-24.5,-27 L-30,-23.5 L-45.6,-29 Z" fill="#fff" stroke="#000" stroke-width="1.2" stroke-linejoin="round"/>
<path d="M-42.4,-43.5 L-42.4,-30 M-42.4,-40 L-38.6,-40 L-38.6,-33.5 L-42.4,-33.5" fill="none" stroke="#000" stroke-width="1.0" stroke-linejoin="round"/>
<path d="M-38.6,-38.5 L-27.5,-30 M-38.6,-33.5 L-29.5,-26.5" fill="none" stroke="#000" stroke-width="1.0" stroke-linejoin="round"/>
<path d="M-45.6,43.5 L-42.4,43.5 L-28,33 L-24.5,27 L-30,23.5 L-45.6,29 Z" fill="#fff" stroke="#000" stroke-width="1.2" stroke-linejoin="round"/>
<path d="M-42.4,43.5 L-42.4,30 M-42.4,40 L-38.6,40 L-38.6,33.5 L-42.4,33.5" fill="none" stroke="#000" stroke-width="1.0" stroke-linejoin="round"/>
<path d="M-38.6,38.5 L-27.5,30 M-38.6,33.5 L-29.5,26.5" fill="none" stroke="#000" stroke-width="1.0" stroke-linejoin="round"/>
<path d="M-46.6,-20 L-46.6,10" fill="none" stroke="#000" stroke-width="2.2" stroke-linejoin="round"/>
<path d="M-44,-11 L-38,-11 M-44,12 L-38,12" fill="none" stroke="#000" stroke-width="2.0" stroke-linejoin="round"/>
<path d="M-22,-28.5 Q-16,-30 -11,-35.5" fill="none" stroke="#000" stroke-width="1.2" stroke-linejoin="round"/>
<path d="M-22,28.5 Q-16,30 -11,35.5" fill="none" stroke="#000" stroke-width="1.2" stroke-linejoin="round"/>
<path d="M-23.5,-31 L-12.5,-38.2" fill="none" stroke="#000" stroke-width="2.6" stroke-linejoin="round"/>
<path d="M-20.4,-51.5 L-21.6,-75.5 Q-21.3,-80.6 -16,-81.2 L20.6,-81.2 L31.4,-73.2 L31.4,-52" fill="#fff" stroke="#000" stroke-width="1.3" stroke-linejoin="round"/>
<path d="M-19.6,-79 L30.2,-59.5 M-21,-75.5 L28.4,-55.8 M-17,-80.2 L31.2,-61.5" fill="none" stroke="#000" stroke-width="1.2" stroke-linejoin="round"/>
<path d="M-15.4,-73 L-19.2,-52" fill="none" stroke="#000" stroke-width="1.0" stroke-linejoin="round"/>
<path d="M3.5,-84 L4.5,-77 M6.8,-67 L6.8,-62" fill="none" stroke="#000" stroke-width="1.6" stroke-linejoin="round"/>
<path d="M-20.4,-51 L31.4,-51 M-20.4,-48.5 L31.4,-48.5 M-17.4,-46 L27.4,-46" fill="none" stroke="#000" stroke-width="1.0" stroke-linejoin="round"/>
<path d="M-17.4,-51 L-17.4,-37 M27.4,-51 L27.4,-25 M24.6,-46 L24.6,-28" fill="none" stroke="#000" stroke-width="1.0" stroke-linejoin="round"/>
</g>
<line x1="372.90" y1="711.00" x2="373.70" y2="717.00" stroke="#000" stroke-width="2.0"/>
<line x1="374.60" y1="725.00" x2="380.40" y2="780.00" stroke="#000" stroke-width="1.4"/>
<polygon points="226.70,853.40 428.30,853.40 429.60,854.60 429.60,883.30 191.60,883.30 191.60,881.40" fill="none" stroke="#000" stroke-width="1.3" stroke-linejoin="round"/>
<line x1="225.00" y1="855.30" x2="428.30" y2="855.30" stroke="#000" stroke-width="1.0"/>
<line x1="192.20" y1="881.30" x2="429.60" y2="881.30" stroke="#000" stroke-width="1.0"/>
<polyline points="443.70,853.40 688.60,853.40 723.60,881.60 723.60,883.30 443.70,883.30" fill="none" stroke="#000" stroke-width="1.3" stroke-linejoin="round"/>
<line x1="443.70" y1="855.30" x2="690.60" y2="855.30" stroke="#000" stroke-width="1.0"/>
<line x1="443.70" y1="881.30" x2="723.00" y2="881.30" stroke="#000" stroke-width="1.0"/>
<rect x="200.90" y="883.30" width="6.80" height="10.00" rx="0" fill="none" stroke="#000" stroke-width="1.0"/>
<line x1="203.10" y1="883.30" x2="203.10" y2="893.30" stroke="#000" stroke-width="0.8"/>
<rect x="199.70" y="884.40" width="9.20" height="2.20" rx="0" fill="none" stroke="#000" stroke-width="0.8"/>
<polygon points="198.10,894.80 210.50,894.80 211.80,897.80 196.80,897.80" fill="#222" stroke="#000" stroke-width="0.8" stroke-linejoin="round"/>
<rect x="191.10" y="897.80" width="26.40" height="4.00" rx="0" fill="#000" stroke="#000" stroke-width="0.3"/>
<rect x="707.60" y="883.30" width="6.80" height="10.00" rx="0" fill="none" stroke="#000" stroke-width="1.0"/>
<line x1="709.80" y1="883.30" x2="709.80" y2="893.30" stroke="#000" stroke-width="0.8"/>
<rect x="706.40" y="884.40" width="9.20" height="2.20" rx="0" fill="none" stroke="#000" stroke-width="0.8"/>
<polygon points="704.80,894.80 717.20,894.80 718.50,897.80 703.50,897.80" fill="#222" stroke="#000" stroke-width="0.8" stroke-linejoin="round"/>
<rect x="697.80" y="897.80" width="26.40" height="4.00" rx="0" fill="#000" stroke="#000" stroke-width="0.3"/>
<polyline points="201.60,873.50 203.20,873.00" fill="none" stroke="#000" stroke-width="1.0" stroke-linejoin="round"/>
<g transform="translate(302.6,829.6) rotate(180)">
<path d="M-8.0,-12.805970149253731 L-4.4,-12.805970149253731 Q-2.5,-12.417910447761194 -2.4,-10.671641791044776 L-2.2,-0.9701492537313433 L-4.6,-0.19402985074626866 L-9.4,-9.313432835820896 Q-10.2,-12.417910447761194 -8.0,-12.805970149253731 Z" fill="#fff" stroke="#000" stroke-width="2.3" stroke-linejoin="round"/>
<path d="M-3.0,-1.9402985074626866 L-4.6,-1.164179104477612 L-6.2,-4.268656716417911 Z" fill="#000" stroke="#000" stroke-width="0.8" stroke-linejoin="round"/>
<path d="M8.0,-12.805970149253731 L4.4,-12.805970149253731 Q2.5,-12.417910447761194 2.4,-10.671641791044776 L2.2,-0.9701492537313433 L4.6,-0.19402985074626866 L9.4,-9.313432835820896 Q10.2,-12.417910447761194 8.0,-12.805970149253731 Z" fill="#fff" stroke="#000" stroke-width="2.3" stroke-linejoin="round"/>
<path d="M3.0,-1.9402985074626866 L4.6,-1.164179104477612 L6.2,-4.268656716417911 Z" fill="#000" stroke="#000" stroke-width="0.8" stroke-linejoin="round"/>
</g>
<g transform="translate(302.8,237.6) rotate(0)">
<path d="M-8.0,-13.2 L-4.4,-13.2 Q-2.5,-12.8 -2.4,-11.0 L-2.2,-1.0 L-4.6,-0.2 L-9.4,-9.6 Q-10.2,-12.8 -8.0,-13.2 Z" fill="#fff" stroke="#000" stroke-width="2.3" stroke-linejoin="round"/>
<path d="M-3.0,-2.0 L-4.6,-1.2 L-6.2,-4.4 Z" fill="#000" stroke="#000" stroke-width="0.8" stroke-linejoin="round"/>
<path d="M8.0,-13.2 L4.4,-13.2 Q2.5,-12.8 2.4,-11.0 L2.2,-1.0 L4.6,-0.2 L9.4,-9.6 Q10.2,-12.8 8.0,-13.2 Z" fill="#fff" stroke="#000" stroke-width="2.3" stroke-linejoin="round"/>
<path d="M3.0,-2.0 L4.6,-1.2 L6.2,-4.4 Z" fill="#000" stroke="#000" stroke-width="0.8" stroke-linejoin="round"/>
</g>
</g>
<g id="hview">
<circle cx="1025.00" cy="305.40" r="31.40" fill="none" stroke="#000" stroke-width="0.9"/>
<text x="1024.30" y="264.90" font-size="15.33" text-anchor="middle" xml:space="preserve">A</text>
<rect x="954.50" y="287.70" width="297.10" height="14.10" rx="0" fill="none" stroke="#000" stroke-width="1.8"/>
<rect x="959.50" y="301.80" width="42.50" height="3.20" rx="0" fill="#000" stroke="#000" stroke-width="0.3"/>
<path d="M961,305 L966,312 M999.5,305 L995,312 M972,305 L969,310 M989,305 L992,310" fill="none" stroke="#000" stroke-width="2.6" stroke-linejoin="round"/>
<g transform="translate(980.30,326.30) rotate(90) scale(0.512)">
<path d="M-44.6,-44 L-42.6,-44 L-42.6,44 L-44.6,44 Z" fill="#000" stroke="#000" stroke-width="0.78125" stroke-linejoin="round"/>
<path d="M-42,44 L-42,25 L-27,31 L-31,37 Z" fill="#000" stroke="#000" stroke-width="1.171875" stroke-linejoin="round"/>
<path d="M-40,38 L-40,30 L-34,33 Z" fill="#fff" stroke="#fff" stroke-width="0.5859375" stroke-linejoin="round"/>
<path d="M-42,-44 L-42,-25 L-27,-31 L-31,-37 Z" fill="#000" stroke="#000" stroke-width="1.171875" stroke-linejoin="round"/>
<path d="M-40,-38 L-40,-30 L-34,-33 Z" fill="#fff" stroke="#fff" stroke-width="0.5859375" stroke-linejoin="round"/>
<path d="M-20.4,-46 L-21.6,-75.5 Q-21.3,-80.6 -16,-81.2 L22,-81.2 L34,-72 L34,-46 Z" fill="#fff" stroke="#000" stroke-width="2.9296875" stroke-linejoin="round"/>
<path d="M-19.6,-79 L32,-57.5 M-21,-75 L30,-53.8" fill="none" stroke="#000" stroke-width="3.3203125" stroke-linejoin="round"/>
<path d="M-20.4,-51 L34,-51 M-17,-46 L-17,-36 M29,-46 L29,-28" fill="none" stroke="#000" stroke-width="2.5390625" stroke-linejoin="round"/>
<circle cx="0.00" cy="0.00" r="45.00" fill="#fff" stroke="#000" stroke-width="1.4"/>
<circle cx="0.00" cy="0.00" r="42.00" fill="none" stroke="#000" stroke-width="5.4" stroke-dasharray="3.7 2.3"/>
<circle cx="0.00" cy="0.00" r="39.00" fill="none" stroke="#000" stroke-width="1.4"/>
<circle cx="0.00" cy="0.00" r="36.60" fill="none" stroke="#000" stroke-width="3.1875"/>
<circle cx="0.00" cy="0.00" r="29.40" fill="none" stroke="#000" stroke-width="1.9921875"/>
<line x1="19.00" y1="0.00" x2="29.00" y2="0.00" stroke="#000" stroke-width="3.38671875"/>
<line x1="18.52" y1="4.23" x2="28.27" y2="6.45" stroke="#000" stroke-width="2.390625"/>
<line x1="17.12" y1="8.24" x2="26.13" y2="12.58" stroke="#000" stroke-width="2.390625"/>
<line x1="14.85" y1="11.85" x2="22.67" y2="18.08" stroke="#000" stroke-width="2.390625"/>
<line x1="11.85" y1="14.85" x2="18.08" y2="22.67" stroke="#000" stroke-width="2.390625"/>
<line x1="8.24" y1="17.12" x2="12.58" y2="26.13" stroke="#000" stroke-width="2.390625"/>
<line x1="4.23" y1="18.52" x2="6.45" y2="28.27" stroke="#000" stroke-width="2.390625"/>
<line x1="0.00" y1="19.00" x2="0.00" y2="29.00" stroke="#000" stroke-width="3.38671875"/>
<line x1="-4.23" y1="18.52" x2="-6.45" y2="28.27" stroke="#000" stroke-width="2.390625"/>
<line x1="-8.24" y1="17.12" x2="-12.58" y2="26.13" stroke="#000" stroke-width="2.390625"/>
<line x1="-11.85" y1="14.85" x2="-18.08" y2="22.67" stroke="#000" stroke-width="2.390625"/>
<line x1="-14.85" y1="11.85" x2="-22.67" y2="18.08" stroke="#000" stroke-width="2.390625"/>
<line x1="-17.12" y1="8.24" x2="-26.13" y2="12.58" stroke="#000" stroke-width="2.390625"/>
<line x1="-18.52" y1="4.23" x2="-28.27" y2="6.45" stroke="#000" stroke-width="2.390625"/>
<line x1="-19.00" y1="0.00" x2="-29.00" y2="0.00" stroke="#000" stroke-width="3.38671875"/>
<line x1="-18.52" y1="-4.23" x2="-28.27" y2="-6.45" stroke="#000" stroke-width="2.390625"/>
<line x1="-17.12" y1="-8.24" x2="-26.13" y2="-12.58" stroke="#000" stroke-width="2.390625"/>
<line x1="-14.85" y1="-11.85" x2="-22.67" y2="-18.08" stroke="#000" stroke-width="2.390625"/>
<line x1="-11.85" y1="-14.85" x2="-18.08" y2="-22.67" stroke="#000" stroke-width="2.390625"/>
<line x1="-8.24" y1="-17.12" x2="-12.58" y2="-26.13" stroke="#000" stroke-width="2.390625"/>
<line x1="-4.23" y1="-18.52" x2="-6.45" y2="-28.27" stroke="#000" stroke-width="2.390625"/>
<line x1="-0.00" y1="-19.00" x2="-0.00" y2="-29.00" stroke="#000" stroke-width="3.38671875"/>
<line x1="4.23" y1="-18.52" x2="6.45" y2="-28.27" stroke="#000" stroke-width="2.390625"/>
<line x1="8.24" y1="-17.12" x2="12.58" y2="-26.13" stroke="#000" stroke-width="2.390625"/>
<line x1="11.85" y1="-14.85" x2="18.08" y2="-22.67" stroke="#000" stroke-width="2.390625"/>
<line x1="14.85" y1="-11.85" x2="22.67" y2="-18.08" stroke="#000" stroke-width="2.390625"/>
<line x1="17.12" y1="-8.24" x2="26.13" y2="-12.58" stroke="#000" stroke-width="2.390625"/>
<line x1="18.52" y1="-4.23" x2="28.27" y2="-6.45" stroke="#000" stroke-width="2.390625"/>
<circle cx="0.00" cy="0.00" r="16.00" fill="none" stroke="#000" stroke-width="6.17578125"/>
<circle cx="0.00" cy="0.00" r="7.00" fill="#000" stroke="#000" stroke-width="0.9765625"/>
<circle cx="0.00" cy="-43.00" r="3.60" fill="#000" stroke="#000" stroke-width="1.171875"/>
<circle cx="0.00" cy="44.50" r="3.60" fill="#000" stroke="#000" stroke-width="1.171875"/>
<circle cx="-43.50" cy="0.00" r="3.60" fill="#000" stroke="#000" stroke-width="1.171875"/>
<circle cx="43.50" cy="0.00" r="3.60" fill="#000" stroke="#000" stroke-width="1.171875"/>
</g>
<rect x="1019.20" y="301.80" width="2.60" height="14.00" rx="0" fill="#222" stroke="#000" stroke-width="0.8"/>
<line x1="1021.80" y1="309.60" x2="1029.40" y2="309.60" stroke="#000" stroke-width="1.6"/>
<rect x="1029.50" y="303.90" width="104.80" height="13.20" rx="0" fill="none" stroke="#000" stroke-width="1.8"/>
<line x1="1031.50" y1="306.20" x2="1132.40" y2="306.20" stroke="#000" stroke-width="1.0"/>
<line x1="1031.50" y1="313.60" x2="1132.40" y2="313.60" stroke="#000" stroke-width="1.0"/>
<circle cx="1037.60" cy="309.90" r="2.90" fill="#111" stroke="#000" stroke-width="0.5"/>
<circle cx="1127.00" cy="309.90" r="2.90" fill="#111" stroke="#000" stroke-width="0.5"/>
<line x1="1054.00" y1="317.70" x2="1116.00" y2="317.70" stroke="#000" stroke-width="2.0"/>
<path d="M1123,317.2 Q1127.5,321.4 1132,317.2" fill="none" stroke="#000" stroke-width="1.0" stroke-linejoin="round"/>
<circle cx="1055.40" cy="294.70" r="6.70" fill="#fff" stroke="#000" stroke-width="1.5"/>
<circle cx="1055.40" cy="294.70" r="3.89" fill="#111" stroke="#000" stroke-width="1.2"/>
<line x1="1055.40" y1="298.00" x2="1055.40" y2="318.00" stroke="#000" stroke-width="1.0"/>
<g transform="translate(1069.0,294.5) rotate(-42)">
<rect x="-6.00" y="-2.30" width="12.00" height="4.60" rx="2.2" fill="#fff" stroke="#000" stroke-width="1.3"/>
<line x1="-4.00" y1="0.80" x2="4.50" y2="0.80" stroke="#000" stroke-width="1.0"/>
</g>
<g transform="translate(1180.6,294.0) rotate(50)">
<rect x="-6.40" y="-2.50" width="12.80" height="5.00" rx="2.4" fill="#fff" stroke="#000" stroke-width="1.4"/>
<line x1="-4.00" y1="-0.80" x2="4.50" y2="-0.80" stroke="#000" stroke-width="1.0"/>
</g>
<line x1="1189.80" y1="287.70" x2="1189.80" y2="301.80" stroke="#000" stroke-width="2.0"/>
<path d="M1194.8,294.4 Q1194.8,292.4 1197,292.4 L1216,292.4 L1216,296.6 L1197,296.6 Q1194.8,296.6 1194.8,294.4 Z" fill="none" stroke="#000" stroke-width="1.2" stroke-linejoin="round"/>
<line x1="1199.50" y1="294.50" x2="1215.00" y2="294.50" stroke="#000" stroke-width="1.0"/>
<rect x="1192.20" y="290.00" width="25.00" height="9.60" rx="1.5" fill="none" stroke="#000" stroke-width="0.9"/>
<circle cx="1222.70" cy="294.70" r="6.50" fill="#fff" stroke="#000" stroke-width="1.5"/>
<circle cx="1222.70" cy="294.70" r="3.77" fill="#111" stroke="#000" stroke-width="1.2"/>
<path d="M1232.5,290.5 L1234.5,290.5 L1234.5,299 L1232.5,299 M1234.5,292.6 L1249,292.6 M1234.5,296.6 L1249,296.6 M1239,289.6 L1239,300 M1242,289.6 L1242,300 M1246.8,289.6 L1246.8,300 M1239,289.6 L1249,289.6 M1239,300 L1249,300" fill="none" stroke="#000" stroke-width="1.2" stroke-linejoin="round"/>
<line x1="1249.20" y1="288.00" x2="1249.20" y2="301.60" stroke="#000" stroke-width="1.6"/>
<line x1="1251.60" y1="294.10" x2="1272.50" y2="294.10" stroke="#000" stroke-width="1.0"/>
<line x1="1251.60" y1="295.80" x2="1272.50" y2="295.80" stroke="#000" stroke-width="1.0"/>
<path d="M1272.5,293.2 L1275.5,292.4 L1275.5,297.4 L1272.5,296.6 Z" fill="#fff" stroke="#000" stroke-width="0.9" stroke-linejoin="round"/>
<path d="M1275.2,284.2 L1279.6,284.2 L1283.2,289.2 L1283.2,300.4 L1279.6,305.6 L1275.2,305.6 Z" fill="#111" stroke="#000" stroke-width="1.0" stroke-linejoin="round"/>
<path d="M1277,290.2 L1279.4,290.2 L1279.4,292.6 L1277,292.6 Z M1277,296.4 L1279.4,296.4 L1279.4,299.6 L1277,299.6 Z" fill="#fff" stroke="#fff" stroke-width="0.4" stroke-linejoin="round"/>
<line x1="1281.40" y1="290.00" x2="1281.40" y2="300.00" stroke="#fff" stroke-width="0.8"/>
<line x1="1068.50" y1="317.70" x2="1068.50" y2="405.30" stroke="#000" stroke-width="2.6"/>
<line x1="1082.10" y1="317.70" x2="1082.10" y2="419.70" stroke="#000" stroke-width="2.6"/>
<line x1="1054.20" y1="318.60" x2="1067.60" y2="331.80" stroke="#000" stroke-width="1.1"/>
<line x1="1095.80" y1="318.60" x2="1083.00" y2="331.80" stroke="#000" stroke-width="1.1"/>
<polygon points="974.00,405.30 1074.60,405.30 1074.60,419.80 957.40,419.80" fill="none" stroke="#000" stroke-width="1.6" stroke-linejoin="round"/>
<polyline points="1083.00,405.30 1206.00,405.30 1222.60,419.80 1083.00,419.80" fill="none" stroke="#000" stroke-width="1.6" stroke-linejoin="round"/>
<line x1="1074.60" y1="419.80" x2="1083.00" y2="419.80" stroke="#000" stroke-width="1.4"/>
<rect x="960.80" y="419.80" width="3.60" height="5.20" rx="0" fill="none" stroke="#000" stroke-width="0.9"/>
<polygon points="959.00,425.00 966.20,425.00 967.00,427.00 958.20,427.00" fill="#222" stroke="#000" stroke-width="0.6" stroke-linejoin="round"/>
<rect x="956.00" y="427.00" width="13.20" height="2.90" rx="0" fill="#000" stroke="#000" stroke-width="0.3"/>
<rect x="1214.80" y="419.80" width="3.60" height="5.20" rx="0" fill="none" stroke="#000" stroke-width="0.9"/>
<polygon points="1213.00,425.00 1220.20,425.00 1221.00,427.00 1212.20,427.00" fill="#222" stroke="#000" stroke-width="0.6" stroke-linejoin="round"/>
<rect x="1210.00" y="427.00" width="13.20" height="2.90" rx="0" fill="#000" stroke="#000" stroke-width="0.3"/>
<text x="1081.80" y="477.80" font-size="15.33" text-anchor="middle" xml:space="preserve">POSICION HORIZONTAL</text>
<text x="1081.80" y="500.30" font-size="15.33" text-anchor="middle" xml:space="preserve">SCALE 1:20</text>
</g>
<g id="vview">
<circle cx="1466.60" cy="289.30" r="34.50" fill="none" stroke="#000" stroke-width="0.9"/>
<text x="1422.60" y="297.90" font-size="15.33" text-anchor="middle" xml:space="preserve">B</text>
<path d="M1452.6,64.8 L1460.8,64.8 L1467.2,69.0 L1467.2,73.9 L1446.2,73.9 L1446.2,69.0 Z" fill="none" stroke="#000" stroke-width="1.7" stroke-linejoin="round"/>
<path d="M1446.2,69.4 L1451.5,69.4 M1458,69.4 L1467.2,69.4 M1451.5,68 L1458,68 M1451.5,68 L1451.5,73.9 M1453.4,68 L1453.4,73.9 M1458,68 L1458,73.9 M1463.6,69.4 L1463.6,73.9 M1448.4,69.4 L1448.4,73.9" fill="none" stroke="#000" stroke-width="1.3" stroke-linejoin="round"/>
<rect x="1454.60" y="73.90" width="3.60" height="4.00" rx="0" fill="none" stroke="#000" stroke-width="1.0"/>
<line x1="1455.20" y1="77.90" x2="1455.20" y2="110.00" stroke="#000" stroke-width="1.0"/>
<line x1="1457.60" y1="77.90" x2="1457.60" y2="110.00" stroke="#000" stroke-width="1.0"/>
<rect x="1448.50" y="97.20" width="14.80" height="295.50" rx="0" fill="none" stroke="#000" stroke-width="2.0"/>
<line x1="1450.20" y1="99.00" x2="1450.20" y2="157.00" stroke="#000" stroke-width="0.9"/>
<line x1="1461.60" y1="99.00" x2="1461.60" y2="157.00" stroke="#000" stroke-width="0.9"/>
<path d="M1450.8,110 L1450.8,101.5 L1454.4,101.5 M1458.4,101.5 L1461.2,101.5 L1461.2,110 M1450.4,110.6 L1461.6,110.6" fill="none" stroke="#000" stroke-width="1.2" stroke-linejoin="round"/>
<path d="M1450.6,120 Q1450.8,114 1455,113.6 L1458,113.6 Q1461.6,114 1461.6,120" fill="none" stroke="#000" stroke-width="1.1" stroke-linejoin="round"/>
<rect x="1454.60" y="113.20" width="3.60" height="2.20" rx="0" fill="#222" stroke="#000" stroke-width="0.4"/>
<circle cx="1456.30" cy="125.70" r="6.80" fill="#fff" stroke="#000" stroke-width="1.5"/>
<circle cx="1456.30" cy="125.70" r="3.94" fill="#111" stroke="#000" stroke-width="1.2"/>
<path d="M1454.5,133.5 L1454.5,151 Q1454.5,153 1456.3,153 Q1458.1,153 1458.1,151 L1458.1,133.5" fill="none" stroke="#000" stroke-width="1.1" stroke-linejoin="round"/>
<line x1="1454.50" y1="147.40" x2="1458.10" y2="147.40" stroke="#000" stroke-width="0.9"/>
<line x1="1448.40" y1="157.30" x2="1463.40" y2="157.30" stroke="#000" stroke-width="1.3"/>
<g transform="translate(1456.0,166.4) rotate(-31)">
<rect x="-6.20" y="-2.40" width="12.40" height="4.80" rx="2.0" fill="#fff" stroke="#000" stroke-width="1.3"/>
<line x1="-5.60" y1="-2.40" x2="5.60" y2="-2.40" stroke="#000" stroke-width="1.8"/>
</g>
<polygon points="1464.20,214.00 1477.00,214.00 1478.60,215.80 1478.60,225.00 1489.60,314.20 1489.40,315.20 1475.00,316.40" fill="#fff" stroke="#000" stroke-width="1.5" stroke-linejoin="round"/>
<line x1="1468.00" y1="219.00" x2="1479.80" y2="315.80" stroke="#000" stroke-width="1.2"/>
<line x1="1466.20" y1="226.00" x2="1476.80" y2="315.80" stroke="#000" stroke-width="0.9"/>
<line x1="1476.20" y1="214.00" x2="1476.20" y2="224.00" stroke="#000" stroke-width="0.9"/>
<circle cx="1471.60" cy="221.80" r="2.20" fill="#111" stroke="#000" stroke-width="0.5"/>
<circle cx="1482.60" cy="310.00" r="2.30" fill="#111" stroke="#000" stroke-width="0.5"/>
<g transform="translate(1435.3,269.6) rotate(24.5)">
<path d="M0,-3.2 A3.2,3.2 0 1 0 0,3.2 L27.5,2.6 L27.5,-2.6 Z" fill="#fff" stroke="#000" stroke-width="1.2" stroke-linejoin="round"/>
<path d="M-0.3,-1.2 A1.3,1.3 0 1 0 -0.3,1.3 L3.5,1.0 L3.5,-1.0 Z" fill="none" stroke="#000" stroke-width="0.9" stroke-linejoin="round"/>
<line x1="11.00" y1="-2.80" x2="11.00" y2="2.80" stroke="#000" stroke-width="0.9"/>
<line x1="13.00" y1="-2.80" x2="13.00" y2="2.80" stroke="#000" stroke-width="0.9"/>
</g>
<g transform="translate(1456.6,278.6) rotate(24.5)">
<rect x="-6.50" y="-2.60" width="13.00" height="5.20" rx="1.5" fill="#fff" stroke="#000" stroke-width="1.2"/>
</g>
<line x1="1463.40" y1="282.80" x2="1474.60" y2="289.60" stroke="#000" stroke-width="1.0"/>
<line x1="1463.40" y1="291.40" x2="1476.00" y2="298.20" stroke="#000" stroke-width="1.0"/>
<circle cx="1456.50" cy="292.90" r="6.90" fill="#fff" stroke="#000" stroke-width="1.5"/>
<circle cx="1456.50" cy="292.90" r="4.00" fill="#111" stroke="#000" stroke-width="1.2"/>
<path d="M1486.4,290.2 L1489.9,292.6 L1489.9,302.2" fill="none" stroke="#000" stroke-width="1.0" stroke-linejoin="round"/>
<rect x="1488.50" y="302.30" width="71.00" height="14.90" rx="0" fill="#fff" stroke="#000" stroke-width="1.9"/>
<line x1="1474.80" y1="317.20" x2="1489.00" y2="317.20" stroke="#000" stroke-width="1.9"/>
<polyline points="1478.80,225.00 1489.60,314.20" fill="none" stroke="#000" stroke-width="1.5" stroke-linejoin="round"/>
<rect x="1463.40" y="303.40" width="2.60" height="12.60" rx="0" fill="#111" stroke="#000" stroke-width="0.3"/>
<rect x="1466.00" y="306.40" width="1.80" height="6.80" rx="0" fill="#111" stroke="#000" stroke-width="0.3"/>
<line x1="1467.80" y1="309.90" x2="1475.40" y2="309.90" stroke="#000" stroke-width="1.4"/>
<line x1="1512.60" y1="317.20" x2="1512.60" y2="405.70" stroke="#000" stroke-width="2.6"/>
<line x1="1526.70" y1="317.20" x2="1526.70" y2="419.80" stroke="#000" stroke-width="2.6"/>
<line x1="1499.40" y1="318.40" x2="1511.70" y2="331.80" stroke="#000" stroke-width="1.1"/>
<line x1="1540.20" y1="318.40" x2="1527.60" y2="331.80" stroke="#000" stroke-width="1.1"/>
<rect x="1463.60" y="345.00" width="2.60" height="47.00" rx="0" fill="#111" stroke="#000" stroke-width="0.3"/>
<g transform="translate(1487.90,368.00) rotate(0) scale(0.545)">
<line x1="32.23" y1="17.14" x2="37.08" y2="19.72" stroke="#000" stroke-width="5.75229357798165"/>
<line x1="28.37" y1="22.97" x2="32.64" y2="26.43" stroke="#000" stroke-width="5.75229357798165"/>
<line x1="23.46" y1="27.96" x2="27.00" y2="32.17" stroke="#000" stroke-width="5.75229357798165"/>
<line x1="17.70" y1="31.92" x2="20.36" y2="36.73" stroke="#000" stroke-width="5.75229357798165"/>
<line x1="11.28" y1="34.71" x2="12.98" y2="39.94" stroke="#000" stroke-width="5.75229357798165"/>
<line x1="4.45" y1="36.23" x2="5.12" y2="41.69" stroke="#000" stroke-width="5.75229357798165"/>
<line x1="-2.55" y1="36.41" x2="-2.93" y2="41.90" stroke="#000" stroke-width="5.75229357798165"/>
<line x1="-9.45" y1="35.26" x2="-10.87" y2="40.57" stroke="#000" stroke-width="5.75229357798165"/>
<line x1="-16.00" y1="32.81" x2="-18.41" y2="37.75" stroke="#000" stroke-width="5.75229357798165"/>
<line x1="-21.97" y1="29.15" x2="-25.28" y2="33.54" stroke="#000" stroke-width="5.75229357798165"/>
<line x1="-27.12" y1="24.42" x2="-31.21" y2="28.10" stroke="#000" stroke-width="5.75229357798165"/>
<line x1="-31.29" y1="18.80" x2="-36.00" y2="21.63" stroke="#000" stroke-width="5.75229357798165"/>
<line x1="35.95" y1="-6.34" x2="41.36" y2="-7.29" stroke="#000" stroke-width="5.75229357798165"/>
<line x1="30.95" y1="-19.34" x2="35.62" y2="-22.26" stroke="#000" stroke-width="5.75229357798165"/>
<line x1="-35.95" y1="-6.34" x2="-41.36" y2="-7.29" stroke="#000" stroke-width="5.75229357798165"/>
<line x1="-32.23" y1="-17.14" x2="-37.08" y2="-19.72" stroke="#000" stroke-width="5.75229357798165"/>
<line x1="35.95" y1="6.34" x2="41.36" y2="7.29" stroke="#000" stroke-width="5.75229357798165"/>
<line x1="-35.95" y1="6.34" x2="-41.36" y2="7.29" stroke="#000" stroke-width="5.75229357798165"/>
<path d="M-27,37.5 A46.2,46.2 0 0 0 27,37.5" fill="none" stroke="#000" stroke-width="1.7431192660550456" stroke-linejoin="round" stroke-dasharray="15.688073394495412 8.715596330275229"/>
<circle cx="0.00" cy="0.00" r="36.30" fill="#fff" stroke="#000" stroke-width="4.880733944954128"/>
<circle cx="0.00" cy="0.00" r="29.20" fill="none" stroke="#000" stroke-width="2.2660550458715596"/>
<circle cx="0.00" cy="0.00" r="17.00" fill="none" stroke="#000" stroke-width="1.7431192660550456"/>
<circle cx="0.00" cy="0.00" r="14.00" fill="none" stroke="#000" stroke-width="2.9633027522935773"/>
<circle cx="0.00" cy="0.00" r="5.70" fill="none" stroke="#000" stroke-width="2.440366972477064"/>
<circle cx="0.00" cy="0.00" r="2.00" fill="#000" stroke="#000" stroke-width="0.5229357798165136"/>
<line x1="15.20" y1="0.00" x2="28.60" y2="0.00" stroke="#000" stroke-width="4.532110091743119"/>
<line x1="15.20" y1="6.20" x2="28.60" y2="6.20" stroke="#000" stroke-width="3.8348623853211006"/>
<line x1="15.20" y1="-6.20" x2="28.60" y2="-6.20" stroke="#000" stroke-width="3.8348623853211006"/>
<line x1="13.79" y1="4.48" x2="27.39" y2="8.90" stroke="#000" stroke-width="2.0917431192660545"/>
<line x1="11.73" y1="8.52" x2="23.30" y2="16.93" stroke="#000" stroke-width="2.0917431192660545"/>
<line x1="8.52" y1="11.73" x2="16.93" y2="23.30" stroke="#000" stroke-width="2.0917431192660545"/>
<line x1="4.48" y1="13.79" x2="8.90" y2="27.39" stroke="#000" stroke-width="2.0917431192660545"/>
<line x1="0.00" y1="15.20" x2="0.00" y2="28.60" stroke="#000" stroke-width="4.532110091743119"/>
<line x1="-6.20" y1="15.20" x2="-6.20" y2="28.60" stroke="#000" stroke-width="3.8348623853211006"/>
<line x1="6.20" y1="15.20" x2="6.20" y2="28.60" stroke="#000" stroke-width="3.8348623853211006"/>
<line x1="-4.48" y1="13.79" x2="-8.90" y2="27.39" stroke="#000" stroke-width="2.0917431192660545"/>
<line x1="-8.52" y1="11.73" x2="-16.93" y2="23.30" stroke="#000" stroke-width="2.0917431192660545"/>
<line x1="-11.73" y1="8.52" x2="-23.30" y2="16.93" stroke="#000" stroke-width="2.0917431192660545"/>
<line x1="-13.79" y1="4.48" x2="-27.39" y2="8.90" stroke="#000" stroke-width="2.0917431192660545"/>
<line x1="-15.20" y1="0.00" x2="-28.60" y2="0.00" stroke="#000" stroke-width="4.532110091743119"/>
<line x1="-15.20" y1="-6.20" x2="-28.60" y2="-6.20" stroke="#000" stroke-width="3.8348623853211006"/>
<line x1="-15.20" y1="6.20" x2="-28.60" y2="6.20" stroke="#000" stroke-width="3.8348623853211006"/>
<line x1="-13.79" y1="-4.48" x2="-27.39" y2="-8.90" stroke="#000" stroke-width="2.0917431192660545"/>
<line x1="-11.73" y1="-8.52" x2="-23.30" y2="-16.93" stroke="#000" stroke-width="2.0917431192660545"/>
<line x1="-8.52" y1="-11.73" x2="-16.93" y2="-23.30" stroke="#000" stroke-width="2.0917431192660545"/>
<line x1="-4.48" y1="-13.79" x2="-8.90" y2="-27.39" stroke="#000" stroke-width="2.0917431192660545"/>
<line x1="-0.00" y1="-15.20" x2="-0.00" y2="-28.60" stroke="#000" stroke-width="4.532110091743119"/>
<line x1="6.20" y1="-15.20" x2="6.20" y2="-28.60" stroke="#000" stroke-width="3.8348623853211006"/>
<line x1="-6.20" y1="-15.20" x2="-6.20" y2="-28.60" stroke="#000" stroke-width="3.8348623853211006"/>
<line x1="4.48" y1="-13.79" x2="8.90" y2="-27.39" stroke="#000" stroke-width="2.0917431192660545"/>
<line x1="8.52" y1="-11.73" x2="16.93" y2="-23.30" stroke="#000" stroke-width="2.0917431192660545"/>
<line x1="11.73" y1="-8.52" x2="23.30" y2="-16.93" stroke="#000" stroke-width="2.0917431192660545"/>
<line x1="13.79" y1="-4.48" x2="27.39" y2="-8.90" stroke="#000" stroke-width="2.0917431192660545"/>
<circle cx="0.00" cy="-41.00" r="4.30" fill="#fff" stroke="#000" stroke-width="2.2660550458715596"/>
<circle cx="0.00" cy="-41.00" r="2.30" fill="none" stroke="#000" stroke-width="1.7431192660550456"/>
<circle cx="0.00" cy="41.50" r="4.30" fill="#fff" stroke="#000" stroke-width="2.2660550458715596"/>
<circle cx="0.00" cy="41.50" r="2.30" fill="none" stroke="#000" stroke-width="1.7431192660550456"/>
<circle cx="-40.60" cy="0.00" r="4.30" fill="#fff" stroke="#000" stroke-width="2.2660550458715596"/>
<circle cx="-40.60" cy="0.00" r="2.30" fill="none" stroke="#000" stroke-width="1.7431192660550456"/>
<circle cx="41.60" cy="0.00" r="4.30" fill="#fff" stroke="#000" stroke-width="2.2660550458715596"/>
<circle cx="41.60" cy="0.00" r="2.30" fill="none" stroke="#000" stroke-width="1.7431192660550456"/>
<path d="M-45.6,-43.5 L-42.4,-43.5 L-28,-33 L-24.5,-27 L-30,-23.5 L-45.6,-29 Z" fill="#fff" stroke="#000" stroke-width="2.0917431192660545" stroke-linejoin="round"/>
<path d="M-42.4,-43.5 L-42.4,-30 M-42.4,-40 L-38.6,-40 L-38.6,-33.5 L-42.4,-33.5" fill="none" stroke="#000" stroke-width="1.7431192660550456" stroke-linejoin="round"/>
<path d="M-38.6,-38.5 L-27.5,-30 M-38.6,-33.5 L-29.5,-26.5" fill="none" stroke="#000" stroke-width="1.7431192660550456" stroke-linejoin="round"/>
<path d="M-45.6,43.5 L-42.4,43.5 L-28,33 L-24.5,27 L-30,23.5 L-45.6,29 Z" fill="#fff" stroke="#000" stroke-width="2.0917431192660545" stroke-linejoin="round"/>
<path d="M-42.4,43.5 L-42.4,30 M-42.4,40 L-38.6,40 L-38.6,33.5 L-42.4,33.5" fill="none" stroke="#000" stroke-width="1.7431192660550456" stroke-linejoin="round"/>
<path d="M-38.6,38.5 L-27.5,30 M-38.6,33.5 L-29.5,26.5" fill="none" stroke="#000" stroke-width="1.7431192660550456" stroke-linejoin="round"/>
<path d="M-46.6,-20 L-46.6,10" fill="none" stroke="#000" stroke-width="3.8348623853211006" stroke-linejoin="round"/>
<path d="M-44,-11 L-38,-11 M-44,12 L-38,12" fill="none" stroke="#000" stroke-width="3.4862385321100913" stroke-linejoin="round"/>
<path d="M-22,-28.5 Q-16,-30 -11,-35.5" fill="none" stroke="#000" stroke-width="2.0917431192660545" stroke-linejoin="round"/>
<path d="M-22,28.5 Q-16,30 -11,35.5" fill="none" stroke="#000" stroke-width="2.0917431192660545" stroke-linejoin="round"/>
<path d="M-23.5,-31 L-12.5,-38.2" fill="none" stroke="#000" stroke-width="4.532110091743119" stroke-linejoin="round"/>
<path d="M-20.4,-51.5 L-21.6,-75.5 Q-21.3,-80.6 -16,-81.2 L20.6,-81.2 L31.4,-73.2 L31.4,-52" fill="#fff" stroke="#000" stroke-width="2.2660550458715596" stroke-linejoin="round"/>
<path d="M-19.6,-79 L30.2,-59.5 M-21,-75.5 L28.4,-55.8 M-17,-80.2 L31.2,-61.5" fill="none" stroke="#000" stroke-width="2.0917431192660545" stroke-linejoin="round"/>
<path d="M-15.4,-73 L-19.2,-52" fill="none" stroke="#000" stroke-width="1.7431192660550456" stroke-linejoin="round"/>
<path d="M3.5,-84 L4.5,-77 M6.8,-67 L6.8,-62" fill="none" stroke="#000" stroke-width="2.788990825688073" stroke-linejoin="round"/>
<path d="M-20.4,-51 L31.4,-51 M-20.4,-48.5 L31.4,-48.5 M-17.4,-46 L27.4,-46" fill="none" stroke="#000" stroke-width="1.7431192660550456" stroke-linejoin="round"/>
<path d="M-17.4,-51 L-17.4,-37 M27.4,-51 L27.4,-25 M24.6,-46 L24.6,-28" fill="none" stroke="#000" stroke-width="1.7431192660550456" stroke-linejoin="round"/>
</g>
<polygon points="1417.80,405.70 1519.40,405.70 1519.40,419.80 1401.30,419.80" fill="none" stroke="#000" stroke-width="1.6" stroke-linejoin="round"/>
<polyline points="1527.60,405.70 1649.20,405.70 1666.40,419.80 1527.60,419.80" fill="none" stroke="#000" stroke-width="1.6" stroke-linejoin="round"/>
<line x1="1519.40" y1="419.80" x2="1527.60" y2="419.80" stroke="#000" stroke-width="1.4"/>
<rect x="1404.90" y="419.80" width="3.60" height="5.20" rx="0" fill="none" stroke="#000" stroke-width="0.9"/>
<polygon points="1403.10,425.00 1410.30,425.00 1411.10,427.00 1402.30,427.00" fill="#222" stroke="#000" stroke-width="0.6" stroke-linejoin="round"/>
<rect x="1400.10" y="427.00" width="13.20" height="2.90" rx="0" fill="#000" stroke="#000" stroke-width="0.3"/>
<rect x="1658.40" y="419.80" width="3.60" height="5.20" rx="0" fill="none" stroke="#000" stroke-width="0.9"/>
<polygon points="1656.60,425.00 1663.80,425.00 1664.60,427.00 1655.80,427.00" fill="#222" stroke="#000" stroke-width="0.6" stroke-linejoin="round"/>
<rect x="1653.60" y="427.00" width="13.20" height="2.90" rx="0" fill="#000" stroke="#000" stroke-width="0.3"/>
<text x="1525.80" y="477.80" font-size="15.33" text-anchor="middle" xml:space="preserve">POSICION VERTICAL</text>
<text x="1525.80" y="500.30" font-size="15.33" text-anchor="middle" xml:space="preserve">SCALE 1:20</text>
</g>
<g id="deta">
<defs><clipPath id="clipA"><circle cx="1144.5" cy="695.6" r="131"/></clipPath></defs>
<defs><clipPath id="clipA2"><polygon points="1037.7,625.0 1042.1,621.3 1040.1,611.2 1046.9,610.6 1051.6,610.9 1049.7,605.8 1052.9,604.8 1059.3,603.7 1066.5,596.9 1073.7,585.4 1078.8,582.2 1086.5,585.4 1091.3,581.4 1094.5,574.2 1099.2,572.3 1104.0,572.6 1109.6,569.7 1112.8,571.0 1115.2,575.4 1117.6,571.0 1123.2,573.4 1128.0,570.2 1132.8,564.9 1136.0,565.4 1137.6,569.4 1142.4,572.3 1148.8,571.0 1156.8,566.5 1160.8,571.8 1163.9,572.9 1167.9,570.2 1171.1,572.3 1175.1,575.8 1180.7,571.8 1183.9,570.7 1186.3,575.0 1187.9,579.8 1191.9,576.6 1194.3,579.0 1195.9,583.8 1203.1,587.7 1211.1,590.1 1219.1,590.5 1224.6,593.3 1226.2,601.3 1228.6,605.3 1236.6,606.1 1241.4,607.7 1243.8,611.7 1246.2,616.5 1249.4,618.9 1248.6,625.3 1247.9,628.3 1252.6,631.9 1257.2,637.0 1259.1,643.5 1263.1,648.2 1265.0,656.4 1266.6,662.3 1268.9,669.3 1271.3,676.3 1268.9,684.5 1272.5,690.3 1267.8,699.7 1272.5,706.7 1276.0,716.0 1272.5,730.1 1265.4,732.4 1266.6,741.8 1259.6,744.1 1260.8,751.1 1258.4,752.3 1251.4,746.4 1260.0,830.0 1126.0,830.0 1125.6,824.2 1121.8,821.0 1118.5,824.2 1114.7,822.9 1108.2,826.1 1104.4,823.5 1097.9,821.0 1095.3,817.1 1087.6,813.9 1085.0,810.0 1077.3,811.3 1070.8,811.9 1066.9,806.8 1061.8,802.9 1062.4,797.1 1057.9,795.2 1054.0,790.0 1050.8,784.2 1047.6,781.0 1043.7,777.1 1039.8,773.2 1036.6,768.7 1032.7,765.5 1029.5,761.6 1028.9,757.7 1024.4,753.9 1021.1,750.0 1021.8,744.8 1019.2,740.3 1020.5,735.8 1017.9,730.6 1019.2,726.8 1017.3,722.9 1012.1,718.4 1013.4,713.9 1012.1,708.7 1015.3,706.1 1013.4,700.3 1014.7,695.8 1017.3,690.6 1015.3,686.8 1016.0,682.9 1017.8,681.2 1017.0,673.2 1014.6,666.8 1015.9,659.6 1021.0,657.2 1023.4,654.8 1024.2,647.7 1021.0,641.3 1022.6,637.3 1027.4,634.9 1029.0,628.8 1036.9,628.8"/></clipPath></defs>
<g clip-path="url(#clipA2)">
<line x1="1037.00" y1="625.40" x2="1248.50" y2="625.40" stroke="#000" stroke-width="1.59"/>
<line x1="1037.00" y1="629.60" x2="1248.50" y2="629.60" stroke="#000" stroke-width="1.59"/>
<line x1="1014.00" y1="682.60" x2="1272.00" y2="682.60" stroke="#000" stroke-width="1.59"/>
<line x1="1014.00" y1="685.60" x2="1272.00" y2="685.60" stroke="#000" stroke-width="1.59"/>
<line x1="1244.00" y1="629.60" x2="1244.00" y2="682.60" stroke="#000" stroke-width="1.34"/>
<line x1="1248.20" y1="629.60" x2="1248.20" y2="640.00" stroke="#000" stroke-width="1.34"/>
<line x1="1248.20" y1="676.00" x2="1248.20" y2="682.60" stroke="#000" stroke-width="1.34"/>
<circle cx="1262.00" cy="657.20" r="28.00" fill="#fff" stroke="#000" stroke-width="1.46"/>
<circle cx="1262.00" cy="657.20" r="14.40" fill="none" stroke="#000" stroke-width="2.93"/>
<circle cx="1262.00" cy="657.20" r="11.60" fill="none" stroke="#000" stroke-width="1.0"/>
<circle cx="1262.00" cy="657.20" r="5.20" fill="none" stroke="#000" stroke-width="1.34"/>
<circle cx="1262.00" cy="657.20" r="3.00" fill="none" stroke="#000" stroke-width="1.0"/>
<line x1="1159.60" y1="685.60" x2="1159.60" y2="745.40" stroke="#000" stroke-width="1.46"/>
<line x1="1162.80" y1="685.60" x2="1162.80" y2="745.40" stroke="#000" stroke-width="1.46"/>
<line x1="1162.80" y1="688.20" x2="1280.00" y2="688.20" stroke="#000" stroke-width="1.34"/>
<line x1="1162.80" y1="691.60" x2="1280.00" y2="691.60" stroke="#000" stroke-width="1.34"/>
<line x1="1168.80" y1="697.00" x2="1280.00" y2="697.00" stroke="#000" stroke-width="1.34"/>
<line x1="1168.80" y1="699.80" x2="1280.00" y2="699.80" stroke="#000" stroke-width="1.34"/>
<line x1="1168.80" y1="731.20" x2="1280.00" y2="731.20" stroke="#000" stroke-width="1.34"/>
<line x1="1168.80" y1="736.40" x2="1280.00" y2="736.40" stroke="#000" stroke-width="1.34"/>
<line x1="1162.80" y1="741.80" x2="1280.00" y2="741.80" stroke="#000" stroke-width="1.34"/>
<line x1="1162.80" y1="745.40" x2="1280.00" y2="745.40" stroke="#000" stroke-width="1.34"/>
<line x1="1168.80" y1="691.60" x2="1168.80" y2="741.80" stroke="#000" stroke-width="1.34"/>
<line x1="1159.60" y1="745.40" x2="1280.00" y2="745.40" stroke="#000" stroke-width="1.46"/>
<polyline points="1250.00,745.40 1258.00,752.40 1261.00,752.40 1261.00,745.40" fill="none" stroke="#000" stroke-width="1.0" stroke-linejoin="round"/>
<circle cx="1193.00" cy="715.60" r="9.60" fill="none" stroke="#000" stroke-width="1.46"/>
<circle cx="1193.00" cy="715.60" r="6.60" fill="none" stroke="#000" stroke-width="1.95"/>
<circle cx="1193.00" cy="715.60" r="3.40" fill="none" stroke="#000" stroke-width="1.0"/>
<circle cx="1193.00" cy="715.60" r="2.00" fill="none" stroke="#000" stroke-width="0.98"/>
<rect x="1118.60" y="691.00" width="5.80" height="48.80" rx="0" fill="none" stroke="#000" stroke-width="1.46"/>
<line x1="1121.80" y1="691.00" x2="1121.80" y2="739.80" stroke="#000" stroke-width="1.10"/>
<path d="M1124.4,703.4 L1128,703.4 Q1132.6,706 1132.6,715.6 Q1132.6,725 1128,727.6 L1124.4,727.6 Z" fill="none" stroke="#000" stroke-width="1.34" stroke-linejoin="round"/>
<line x1="1126.60" y1="704.00" x2="1126.60" y2="727.00" stroke="#000" stroke-width="1.10"/>
<line x1="1132.60" y1="712.00" x2="1159.60" y2="712.00" stroke="#000" stroke-width="1.46"/>
<line x1="1132.60" y1="719.40" x2="1159.60" y2="719.40" stroke="#000" stroke-width="1.46"/>
<line x1="1014.00" y1="688.20" x2="1062.40" y2="688.20" stroke="#000" stroke-width="1.46"/>
<line x1="1062.40" y1="685.60" x2="1062.40" y2="688.20" stroke="#000" stroke-width="1.0"/>
<rect x="1019.20" y="690.60" width="31.00" height="5.20" rx="0" fill="none" stroke="#000" stroke-width="1.34"/>
<line x1="1046.00" y1="690.60" x2="1046.00" y2="695.80" stroke="#000" stroke-width="1.10"/>
<rect x="1028.20" y="695.80" width="16.20" height="7.00" rx="0" fill="none" stroke="#000" stroke-width="1.34"/>
<line x1="1033.00" y1="695.80" x2="1033.00" y2="702.80" stroke="#000" stroke-width="1.10"/>
<line x1="1040.00" y1="695.80" x2="1040.00" y2="702.80" stroke="#000" stroke-width="1.10"/>
<polygon points="1035.40,704.60 1041.80,704.60 1034.00,718.60 1025.40,718.60" fill="none" stroke="#000" stroke-width="1.34" stroke-linejoin="round"/>
<polyline points="1016.60,694.00 1009.00,712.00" fill="none" stroke="#000" stroke-width="1.34" stroke-linejoin="round"/>
<line x1="1019.00" y1="728.60" x2="1033.00" y2="728.60" stroke="#000" stroke-width="2.44"/>
<path d="M1033.5,720.6 Q1052,752 1054.4,786" fill="none" stroke="#000" stroke-width="1.34" stroke-linejoin="round"/>
<path d="M1018,731 Q1038,754 1043,790" fill="none" stroke="#000" stroke-width="1.34" stroke-linejoin="round"/>
<path d="M1020,730 Q1041,754 1046,790" fill="none" stroke="#000" stroke-width="2.20" stroke-linejoin="round"/>
<path d="M1016,736 Q1034,758 1039,786" fill="none" stroke="#000" stroke-width="1.0" stroke-linejoin="round"/>
<path d="M1039,786 Q1050,790 1051,800 M1046,790 Q1053,794 1053.6,804" fill="none" stroke="#000" stroke-width="1.46" stroke-linejoin="round"/>
<line x1="1032.60" y1="742.80" x2="1057.30" y2="742.80" stroke="#000" stroke-width="1.0"/>
<line x1="1040.00" y1="744.60" x2="1046.00" y2="744.60" stroke="#000" stroke-width="1.95"/>
<line x1="1045.00" y1="760.60" x2="1051.00" y2="760.60" stroke="#000" stroke-width="1.95"/>
<line x1="1046.00" y1="748.00" x2="1057.30" y2="748.00" stroke="#000" stroke-width="1.0"/>
<line x1="1057.30" y1="742.00" x2="1057.30" y2="797.00" stroke="#000" stroke-width="1.34"/>
<line x1="1063.00" y1="740.70" x2="1063.00" y2="801.00" stroke="#000" stroke-width="1.34"/>
<path d="M1057.3,742 Q1058,740.7 1063,740.7 L1111.6,740.7" fill="none" stroke="#000" stroke-width="1.46" stroke-linejoin="round"/>
<path d="M1057.3,757 Q1060,756 1063,755.4" fill="none" stroke="#000" stroke-width="1.0" stroke-linejoin="round"/>
<line x1="1063.00" y1="742.30" x2="1121.80" y2="752.20" stroke="#000" stroke-width="1.34"/>
<line x1="1098.00" y1="740.70" x2="1111.00" y2="744.60" stroke="#000" stroke-width="1.0"/>
<polyline points="1085.60,811.00 1112.20,739.00 1117.40,741.00 1125.20,746.20 1099.80,817.40" fill="none" stroke="#000" stroke-width="1.46" stroke-linejoin="round"/>
<line x1="1117.40" y1="741.00" x2="1093.40" y2="813.40" stroke="#000" stroke-width="1.34"/>
<polyline points="1125.20,746.20 1127.40,749.00 1125.60,757.60 1121.60,756.60" fill="none" stroke="#000" stroke-width="1.34" stroke-linejoin="round"/>
<line x1="1118.50" y1="762.00" x2="1118.50" y2="812.00" stroke="#000" stroke-width="1.0"/>
<line x1="1125.60" y1="757.60" x2="1125.60" y2="824.00" stroke="#000" stroke-width="1.34"/>
<line x1="1121.40" y1="760.00" x2="1125.60" y2="761.60" stroke="#000" stroke-width="1.0"/>
<path d="M1118.5,812 Q1121,810 1125.6,809.4" fill="none" stroke="#000" stroke-width="1.10" stroke-linejoin="round"/>
</g>
<polyline points="1037.75,624.97 1042.06,621.29 1040.14,611.23 1046.85,610.59 1051.65,610.91 1049.73,605.80 1052.92,604.84 1059.31,603.72 1066.50,596.85 1073.69,585.35 1078.80,582.16 1086.47,585.35 1091.26,581.36 1094.46,574.17 1099.25,572.25 1104.04,572.57 1109.63,569.70 1112.83,570.97 1115.22,575.45 1117.62,570.97 1123.21,573.37 1128.00,570.18 1132.80,564.90 1135.99,565.38 1137.59,569.38 1142.38,572.25 1148.77,570.97 1156.76,566.50 1160.75,571.77 1163.95,572.89 1167.94,570.18 1171.13,572.25 1175.13,575.77 1180.72,571.77 1183.91,570.65 1186.31,574.97 1187.91,579.76 1191.90,576.57 1194.30,578.96 1195.89,583.75 1203.08,587.75 1211.07,590.14 1219.06,590.46 1224.65,593.34 1226.25,601.33 1228.64,605.32 1236.63,606.12 1241.42,607.72 1243.82,611.71 1246.21,616.50 1249.41,618.90 1248.61,625.29" fill="none" stroke="#000" stroke-width="1.15" stroke-linejoin="round"/>
<polyline points="1247.90,628.34 1252.57,631.85 1257.25,637.00 1259.12,643.55 1263.10,648.22 1264.97,656.41 1266.60,662.25 1268.94,669.27 1271.28,676.29 1268.94,684.47 1272.45,690.32 1267.77,699.67 1272.45,706.69 1275.96,716.04 1272.45,730.07 1265.43,732.41 1266.60,741.77 1259.59,744.11 1260.76,751.12 1258.42,752.29 1251.40,746.45" fill="none" stroke="#000" stroke-width="1.15" stroke-linejoin="round"/>
<polyline points="1036.95,628.80 1028.96,628.80 1027.36,634.87 1022.57,637.27 1020.97,641.26 1024.17,647.65 1023.37,654.84 1020.97,657.24 1015.86,659.63 1014.58,666.82 1016.98,673.21 1017.78,681.20" fill="none" stroke="#000" stroke-width="1.15" stroke-linejoin="round"/>
<polyline points="1015.97,682.90 1015.32,686.77 1017.26,690.65 1014.68,695.81 1013.39,700.32 1015.32,706.13 1012.10,708.71 1013.39,713.87 1012.10,718.39 1017.26,722.90 1019.19,726.77 1017.90,730.65 1020.48,735.81 1019.19,740.32 1021.77,744.84 1021.13,750.00 1024.35,753.87 1028.87,757.74 1029.52,761.61 1032.74,765.48 1036.61,768.71 1039.84,773.23 1043.71,777.10 1047.58,780.97 1050.81,784.19 1054.03,790.00 1057.90,795.16 1062.42,797.10 1061.77,802.90 1066.94,806.77 1070.81,811.94 1077.26,811.29 1085.00,810.00 1087.58,813.87 1095.32,817.10 1097.90,820.97 1104.35,823.55 1108.23,826.13 1114.68,822.90 1118.55,824.19 1121.77,820.97 1125.65,824.19" fill="none" stroke="#000" stroke-width="1.15" stroke-linejoin="round"/>
<text x="1142.70" y="860.90" font-size="15.33" text-anchor="middle" xml:space="preserve">DETAIL A</text>
<text x="1142.70" y="883.30" font-size="15.33" text-anchor="middle" xml:space="preserve">SCALE 1 : 5</text>
</g>
<g id="detb">
<line x1="1424.00" y1="620.70" x2="1463.20" y2="640.30" stroke="#000" stroke-width="1.42"/>
<line x1="1413.10" y1="639.60" x2="1455.20" y2="662.10" stroke="#000" stroke-width="1.42"/>
<polyline points="1424.00,620.70 1418.10,621.10 1415.60,623.20 1414.50,631.20 1413.10,637.70 1413.10,639.60" fill="none" stroke="#000" stroke-width="1.42" stroke-linejoin="round"/>
<path d="M1425,620.6 L1425.4,615.6 Q1427.6,613.4 1430.5,616.7 Q1433.6,621 1433,624.9" fill="none" stroke="#000" stroke-width="1.42" stroke-linejoin="round"/>
<path d="M1413.1,639.6 L1409.8,640.7 L1409.1,648.3 Q1415,648.4 1421.8,645.2" fill="none" stroke="#000" stroke-width="1.42" stroke-linejoin="round"/>
<path d="M1447.2,633 Q1437.6,640 1437.4,651.8" fill="none" stroke="#000" stroke-width="1.42" stroke-linejoin="round"/>
<path d="M1463.2,643.6 Q1455.4,649 1455.5,662" fill="none" stroke="#000" stroke-width="1.42" stroke-linejoin="round"/>
<polyline points="1463.20,650.80 1451.50,672.20 1463.20,678.40" fill="none" stroke="#000" stroke-width="1.42" stroke-linejoin="round"/>
<line x1="1463.20" y1="582.70" x2="1463.20" y2="823.40" stroke="#000" stroke-width="1.42"/>
<line x1="1466.80" y1="580.00" x2="1466.80" y2="823.40" stroke="#000" stroke-width="1.42"/>
<line x1="1520.80" y1="563.30" x2="1520.80" y2="840.40" stroke="#000" stroke-width="1.42"/>
<line x1="1523.90" y1="563.30" x2="1523.90" y2="840.40" stroke="#000" stroke-width="1.42"/>
<polyline points="1463.18,582.67 1466.81,580.97 1471.17,574.20 1476.49,572.26 1480.85,574.68 1484.48,569.36 1492.95,571.29 1499.00,566.94 1505.05,561.62 1512.30,559.20 1518.35,561.62 1520.77,564.52 1523.92,563.31" fill="none" stroke="#000" stroke-width="1.0" stroke-linejoin="round"/>
<polyline points="1463.18,823.44 1466.81,824.65 1469.96,831.91 1478.43,833.61 1488.11,833.12 1496.58,835.54 1499.00,840.38 1503.84,839.17 1508.68,844.01 1515.93,840.38 1521.98,840.38 1523.92,839.17" fill="none" stroke="#000" stroke-width="1.0" stroke-linejoin="round"/>
<polygon points="1469.23,648.00 1485.69,643.16 1508.68,656.47 1513.51,669.78 1507.47,680.67 1465.12,656.47" fill="#fff" stroke="#000" stroke-width="1.42" stroke-linejoin="round"/>
<polyline points="1466.33,659.38 1506.26,681.88" fill="none" stroke="#000" stroke-width="1.42" stroke-linejoin="round"/>
<polyline points="1465.60,657.92 1506.98,681.16" fill="none" stroke="#000" stroke-width="1.42" stroke-linejoin="round"/>
<rect x="1480.60" y="651.40" width="3.00" height="3.00" rx="0" fill="none" stroke="#000" stroke-width="1.0"/>
<rect x="1501.60" y="663.60" width="3.00" height="3.00" rx="0" fill="none" stroke="#000" stroke-width="1.0"/>
<line x1="1466.80" y1="696.60" x2="1470.40" y2="696.60" stroke="#000" stroke-width="1.0"/>
<line x1="1466.80" y1="735.60" x2="1470.40" y2="735.60" stroke="#000" stroke-width="1.0"/>
<line x1="1516.60" y1="696.60" x2="1520.80" y2="696.60" stroke="#000" stroke-width="1.0"/>
<line x1="1516.60" y1="735.60" x2="1520.80" y2="735.60" stroke="#000" stroke-width="1.0"/>
<circle cx="1493.40" cy="716.20" r="29.20" fill="#fff" stroke="#000" stroke-width="1.42"/>
<circle cx="1493.40" cy="716.20" r="15.60" fill="none" stroke="#000" stroke-width="2.6"/>
<circle cx="1493.40" cy="716.20" r="13.00" fill="none" stroke="#000" stroke-width="1.0"/>
<polygon points="1501.60,716.20 1497.50,723.30 1489.30,723.30 1485.20,716.20 1489.30,709.10 1497.50,709.10" fill="none" stroke="#000" stroke-width="1.3" stroke-linejoin="round"/>
<circle cx="1493.40" cy="716.20" r="6.40" fill="none" stroke="#000" stroke-width="1.0"/>
<circle cx="1493.40" cy="716.20" r="3.60" fill="none" stroke="#000" stroke-width="1.2"/>
<line x1="1523.90" y1="660.00" x2="1559.60" y2="679.60" stroke="#000" stroke-width="1.42"/>
<line x1="1523.90" y1="711.00" x2="1568.20" y2="734.00" stroke="#000" stroke-width="1.42"/>
<line x1="1546.20" y1="563.30" x2="1576.45" y2="810.40" stroke="#000" stroke-width="1.42"/>
<line x1="1548.80" y1="563.30" x2="1579.02" y2="810.20" stroke="#000" stroke-width="1.42"/>
<line x1="1555.13" y1="566.00" x2="1584.93" y2="809.40" stroke="#000" stroke-width="1.42"/>
<line x1="1587.39" y1="573.00" x2="1615.98" y2="806.60" stroke="#000" stroke-width="1.42"/>
<line x1="1593.39" y1="573.00" x2="1621.71" y2="804.40" stroke="#000" stroke-width="1.42"/>
<polyline points="1546.18,563.31 1552.23,562.58 1555.86,566.94 1561.91,566.45 1570.38,564.52 1580.06,566.45 1586.11,570.57 1588.53,574.20 1594.10,574.20" fill="none" stroke="#000" stroke-width="1.0" stroke-linejoin="round"/>
<line x1="1582.00" y1="810.20" x2="1621.60" y2="804.60" stroke="#000" stroke-width="1.42"/>
<circle cx="1597.70" cy="784.20" r="9.60" fill="none" stroke="#000" stroke-width="1.42"/>
<circle cx="1597.70" cy="784.20" r="6.40" fill="none" stroke="#000" stroke-width="1.8"/>
<circle cx="1597.70" cy="784.20" r="3.60" fill="none" stroke="#000" stroke-width="1.0"/>
<circle cx="1597.70" cy="784.20" r="2.00" fill="none" stroke="#000" stroke-width="0.8"/>
<path d="M1609,696.6 Q1622,700 1628.4,716 L1630.4,720 L1628.4,724 L1628.4,754.5" fill="none" stroke="#000" stroke-width="1.42" stroke-linejoin="round"/>
<line x1="1616.60" y1="754.50" x2="1665.00" y2="754.50" stroke="#000" stroke-width="1.42"/>
<line x1="1617.00" y1="757.40" x2="1664.00" y2="757.40" stroke="#000" stroke-width="1.42"/>
<polyline points="1664.75,754.48 1665.24,757.62 1662.82,760.53 1658.71,764.16 1657.98,771.42 1659.43,775.05 1655.08,778.68 1650.72,781.09 1649.75,788.35 1642.98,789.56 1640.07,793.19 1640.56,799.24 1637.65,806.50 1633.30,811.83 1626.04,812.55 1621.68,810.86" fill="none" stroke="#000" stroke-width="1.0" stroke-linejoin="round"/>
<line x1="1564.30" y1="754.50" x2="1564.30" y2="814.20" stroke="#000" stroke-width="1.42"/>
<line x1="1568.00" y1="757.40" x2="1568.00" y2="810.90" stroke="#000" stroke-width="1.42"/>
<line x1="1564.30" y1="754.50" x2="1572.00" y2="754.50" stroke="#000" stroke-width="1.42"/>
<line x1="1564.30" y1="757.40" x2="1572.40" y2="757.40" stroke="#000" stroke-width="1.42"/>
<line x1="1568.00" y1="810.90" x2="1582.00" y2="810.90" stroke="#000" stroke-width="1.42"/>
<line x1="1564.30" y1="814.20" x2="1621.20" y2="814.20" stroke="#000" stroke-width="1.42"/>
<polyline points="1621.20,814.20 1621.60,804.60" fill="none" stroke="#000" stroke-width="1.42" stroke-linejoin="round"/>
<rect x="1524.40" y="759.30" width="2.40" height="49.70" rx="0" fill="none" stroke="#000" stroke-width="1.42"/>
<rect x="1526.80" y="759.30" width="2.60" height="49.70" rx="0" fill="none" stroke="#000" stroke-width="1.42"/>
<path d="M1529.4,771.4 L1533.4,771.4 L1533.4,774.6 L1536.2,775.6 Q1537.4,777 1537.4,784.2 Q1537.4,791.4 1536.2,792.8 L1533.4,793.8 L1533.4,797 L1529.4,797 Z" fill="none" stroke="#000" stroke-width="1.42" stroke-linejoin="round"/>
<line x1="1533.40" y1="774.60" x2="1533.40" y2="793.80" stroke="#000" stroke-width="1.0"/>
<line x1="1537.40" y1="780.00" x2="1564.30" y2="780.00" stroke="#000" stroke-width="1.42"/>
<line x1="1537.40" y1="788.40" x2="1564.30" y2="788.40" stroke="#000" stroke-width="1.42"/>
<text x="1287.40" y="806.20" font-size="15.33" text-anchor="start" xml:space="preserve">tope vertical</text>
<line x1="1288.50" y1="811.40" x2="1410.60" y2="811.40" stroke="#000" stroke-width="1.0"/>
<line x1="1410.60" y1="811.40" x2="1505.00" y2="791.80" stroke="#000" stroke-width="1.0"/>
<polygon points="1521.60,788.80 1503.00,788.40 1504.60,795.60" fill="#000" stroke="#000" stroke-width="0.5" stroke-linejoin="round"/>
<text x="1534.00" y="881.20" font-size="15.33" text-anchor="middle" xml:space="preserve">DETAIL B</text>
<text x="1534.00" y="903.70" font-size="15.33" text-anchor="middle" xml:space="preserve">SCALE 1 : 5</text>
</g>
</svg>
</body></html>
